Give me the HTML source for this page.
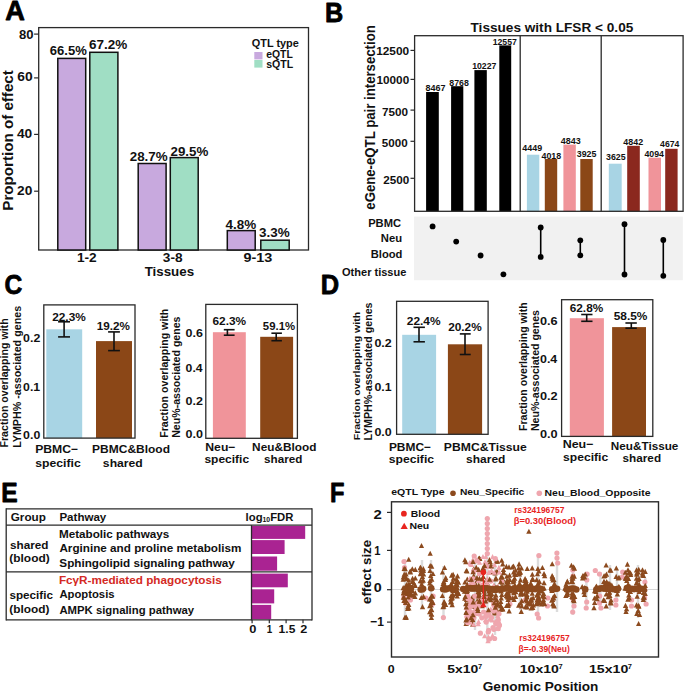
<!DOCTYPE html>
<html><head><meta charset="utf-8"><style>
html,body{margin:0;padding:0;background:#fff;}
svg{display:block;}
text{font-family:"Liberation Sans",sans-serif;}
</style></head><body>
<svg width="685" height="693" viewBox="0 0 685 693">
<rect x="0" y="0" width="685" height="693" fill="#fff"/>
<text x="5.22" y="19.50" font-size="26.80" font-weight="bold" fill="#000" textLength="19.59" lengthAdjust="spacingAndGlyphs" stroke="#000" stroke-width="0.8" stroke-linejoin="round">A</text>
<text x="325.01" y="21.50" font-size="26.80" font-weight="bold" fill="#000" textLength="18.23" lengthAdjust="spacingAndGlyphs" stroke="#000" stroke-width="0.8" stroke-linejoin="round">B</text>
<text x="4.39" y="294.20" font-size="26.80" font-weight="bold" fill="#000" textLength="17.78" lengthAdjust="spacingAndGlyphs" stroke="#000" stroke-width="0.8" stroke-linejoin="round">C</text>
<text x="320.69" y="294.40" font-size="26.80" font-weight="bold" fill="#000" textLength="18.38" lengthAdjust="spacingAndGlyphs" stroke="#000" stroke-width="0.8" stroke-linejoin="round">D</text>
<text x="1.35" y="501.80" font-size="26.80" font-weight="bold" fill="#000" textLength="16.41" lengthAdjust="spacingAndGlyphs" stroke="#000" stroke-width="0.8" stroke-linejoin="round">E</text>
<text x="329.91" y="501.80" font-size="26.80" font-weight="bold" fill="#000" textLength="14.46" lengthAdjust="spacingAndGlyphs" stroke="#000" stroke-width="0.8" stroke-linejoin="round">F</text>
<rect x="38.70" y="27.60" width="269.80" height="222.40" fill="none" stroke="#2a2a2a" stroke-width="1.3"/>
<line x1="34.10" y1="34.10" x2="38.70" y2="34.10" stroke="#2a2a2a" stroke-width="1.2"/>
<text x="18.98" y="39.00" font-size="12.10" font-weight="bold" fill="#111" textLength="14.56" lengthAdjust="spacingAndGlyphs">80</text>
<line x1="34.10" y1="77.90" x2="38.70" y2="77.90" stroke="#2a2a2a" stroke-width="1.2"/>
<text x="17.39" y="81.40" font-size="12.10" font-weight="bold" fill="#111" textLength="15.38" lengthAdjust="spacingAndGlyphs">60</text>
<line x1="34.10" y1="134.40" x2="38.70" y2="134.40" stroke="#2a2a2a" stroke-width="1.2"/>
<text x="16.99" y="138.40" font-size="12.10" font-weight="bold" fill="#111" textLength="15.27" lengthAdjust="spacingAndGlyphs">40</text>
<line x1="34.10" y1="191.20" x2="38.70" y2="191.20" stroke="#2a2a2a" stroke-width="1.2"/>
<text x="17.02" y="195.30" font-size="12.10" font-weight="bold" fill="#111" textLength="15.25" lengthAdjust="spacingAndGlyphs">20</text>
<rect x="57.80" y="58.40" width="27.90" height="191.60" fill="#C8A9DE" stroke="#111" stroke-width="1.5"/>
<rect x="89.80" y="52.30" width="28.10" height="197.70" fill="#A0DEC4" stroke="#111" stroke-width="1.5"/>
<rect x="138.20" y="163.50" width="27.90" height="86.50" fill="#C8A9DE" stroke="#111" stroke-width="1.5"/>
<rect x="170.30" y="157.60" width="27.90" height="92.40" fill="#A0DEC4" stroke="#111" stroke-width="1.5"/>
<rect x="227.30" y="230.60" width="27.90" height="19.40" fill="#C8A9DE" stroke="#111" stroke-width="1.5"/>
<rect x="260.80" y="240.20" width="28.40" height="9.80" fill="#A0DEC4" stroke="#111" stroke-width="1.5"/>
<text x="49.82" y="55.40" font-size="12.70" font-weight="bold" fill="#111" textLength="37.03" lengthAdjust="spacingAndGlyphs">66.5%</text>
<text x="89.00" y="48.60" font-size="12.70" font-weight="bold" fill="#111" textLength="38.26" lengthAdjust="spacingAndGlyphs">67.2%</text>
<text x="129.73" y="161.00" font-size="12.70" font-weight="bold" fill="#111" textLength="37.92" lengthAdjust="spacingAndGlyphs">28.7%</text>
<text x="170.53" y="156.00" font-size="12.70" font-weight="bold" fill="#111" textLength="37.82" lengthAdjust="spacingAndGlyphs">29.5%</text>
<text x="225.50" y="229.00" font-size="12.70" font-weight="bold" fill="#111" textLength="30.66" lengthAdjust="spacingAndGlyphs">4.8%</text>
<text x="258.99" y="237.20" font-size="12.70" font-weight="bold" fill="#111" textLength="30.66" lengthAdjust="spacingAndGlyphs">3.3%</text>
<text x="251.75" y="47.30" font-size="10.40" font-weight="bold" fill="#111" textLength="47.12" lengthAdjust="spacingAndGlyphs">QTL type</text>
<rect x="254.30" y="52.00" width="8.20" height="7.40" fill="#C8A9DE" stroke="none" stroke-width="1"/>
<rect x="254.30" y="60.00" width="8.20" height="7.60" fill="#A0DEC4" stroke="none" stroke-width="1"/>
<text x="266.19" y="58.30" font-size="10.60" font-weight="bold" fill="#111" textLength="26.63" lengthAdjust="spacingAndGlyphs">eQTL</text>
<text x="266.23" y="68.30" font-size="10.60" font-weight="bold" fill="#111" textLength="27.10" lengthAdjust="spacingAndGlyphs">sQTL</text>
<text x="76.94" y="262.20" font-size="12.20" font-weight="bold" fill="#111" textLength="19.82" lengthAdjust="spacingAndGlyphs">1-2</text>
<text x="162.89" y="262.20" font-size="12.20" font-weight="bold" fill="#111" textLength="19.74" lengthAdjust="spacingAndGlyphs">3-8</text>
<text x="243.50" y="262.20" font-size="12.20" font-weight="bold" fill="#111" textLength="28.83" lengthAdjust="spacingAndGlyphs">9-13</text>
<text x="144.65" y="275.80" font-size="13.70" font-weight="bold" fill="#111" textLength="49.50" lengthAdjust="spacingAndGlyphs">Tissues</text>
<text transform="translate(13.00,210.71) scale(1.069,1) rotate(-90)" x="0" y="0" font-size="14.00" font-weight="bold" fill="#111" textLength="140.50" lengthAdjust="spacingAndGlyphs">Proportion of effect</text>
<text x="470.55" y="31.70" font-size="13.20" font-weight="bold" fill="#111" textLength="162.73" lengthAdjust="spacingAndGlyphs">Tissues with LFSR &lt; 0.05</text>
<line x1="410.50" y1="50.40" x2="414.50" y2="50.40" stroke="#2a2a2a" stroke-width="1.2"/>
<text x="376.15" y="54.70" font-size="11.40" font-weight="bold" fill="#111" textLength="33.03" lengthAdjust="spacingAndGlyphs">12500</text>
<line x1="410.50" y1="79.40" x2="414.50" y2="79.40" stroke="#2a2a2a" stroke-width="1.2"/>
<text x="376.56" y="84.20" font-size="11.40" font-weight="bold" fill="#111" textLength="32.62" lengthAdjust="spacingAndGlyphs">10000</text>
<line x1="410.50" y1="110.10" x2="414.50" y2="110.10" stroke="#2a2a2a" stroke-width="1.2"/>
<text x="382.00" y="115.50" font-size="11.40" font-weight="bold" fill="#111" textLength="26.09" lengthAdjust="spacingAndGlyphs">7500</text>
<line x1="410.50" y1="141.30" x2="414.50" y2="141.30" stroke="#2a2a2a" stroke-width="1.2"/>
<text x="381.84" y="146.70" font-size="11.40" font-weight="bold" fill="#111" textLength="25.84" lengthAdjust="spacingAndGlyphs">5000</text>
<line x1="410.50" y1="178.30" x2="414.50" y2="178.30" stroke="#2a2a2a" stroke-width="1.2"/>
<text x="383.39" y="183.50" font-size="11.40" font-weight="bold" fill="#111" textLength="26.00" lengthAdjust="spacingAndGlyphs">2500</text>
<rect x="426.10" y="92.00" width="12.70" height="119.30" fill="#000" stroke="none" stroke-width="1"/>
<rect x="451.10" y="86.20" width="12.20" height="125.10" fill="#000" stroke="none" stroke-width="1"/>
<rect x="474.40" y="70.10" width="12.40" height="141.20" fill="#000" stroke="none" stroke-width="1"/>
<rect x="499.30" y="45.40" width="11.90" height="165.90" fill="#000" stroke="none" stroke-width="1"/>
<rect x="526.90" y="154.70" width="12.40" height="56.60" fill="#A8D4E4" stroke="none" stroke-width="1"/>
<rect x="544.80" y="159.00" width="12.40" height="52.30" fill="#8B4717" stroke="none" stroke-width="1"/>
<rect x="563.40" y="144.60" width="12.40" height="66.70" fill="#F0949A" stroke="none" stroke-width="1"/>
<rect x="580.30" y="159.00" width="12.40" height="52.30" fill="#8B4717" stroke="none" stroke-width="1"/>
<rect x="608.80" y="163.70" width="12.90" height="47.60" fill="#A8D4E4" stroke="none" stroke-width="1"/>
<rect x="627.20" y="145.80" width="12.60" height="65.50" fill="#8B281E" stroke="none" stroke-width="1"/>
<rect x="648.50" y="157.70" width="12.50" height="53.60" fill="#F0949A" stroke="none" stroke-width="1"/>
<rect x="665.20" y="148.80" width="12.40" height="62.50" fill="#8B281E" stroke="none" stroke-width="1"/>
<text x="425.41" y="90.50" font-size="8.80" font-weight="bold" fill="#111" textLength="19.99" lengthAdjust="spacingAndGlyphs">8467</text>
<text x="449.32" y="86.20" font-size="8.80" font-weight="bold" fill="#111" textLength="19.56" lengthAdjust="spacingAndGlyphs">8768</text>
<text x="472.15" y="68.50" font-size="8.80" font-weight="bold" fill="#111" textLength="24.23" lengthAdjust="spacingAndGlyphs">10227</text>
<text x="492.65" y="44.60" font-size="8.80" font-weight="bold" fill="#111" textLength="24.23" lengthAdjust="spacingAndGlyphs">12557</text>
<text x="522.27" y="151.00" font-size="8.80" font-weight="bold" fill="#111" textLength="19.87" lengthAdjust="spacingAndGlyphs">4449</text>
<text x="541.47" y="158.50" font-size="8.80" font-weight="bold" fill="#111" textLength="19.71" lengthAdjust="spacingAndGlyphs">4018</text>
<text x="560.77" y="143.60" font-size="8.80" font-weight="bold" fill="#111" textLength="19.86" lengthAdjust="spacingAndGlyphs">4843</text>
<text x="576.80" y="157.20" font-size="8.80" font-weight="bold" fill="#111" textLength="19.66" lengthAdjust="spacingAndGlyphs">3925</text>
<text x="606.10" y="160.20" font-size="8.80" font-weight="bold" fill="#111" textLength="19.55" lengthAdjust="spacingAndGlyphs">3625</text>
<text x="623.37" y="144.80" font-size="8.80" font-weight="bold" fill="#111" textLength="19.79" lengthAdjust="spacingAndGlyphs">4842</text>
<text x="644.47" y="156.70" font-size="8.80" font-weight="bold" fill="#111" textLength="19.48" lengthAdjust="spacingAndGlyphs">4094</text>
<text x="660.07" y="146.80" font-size="8.80" font-weight="bold" fill="#111" textLength="19.28" lengthAdjust="spacingAndGlyphs">4674</text>
<rect x="414.60" y="35.70" width="268.50" height="175.60" fill="none" stroke="#2a2a2a" stroke-width="1.3"/>
<line x1="520.20" y1="35.70" x2="520.20" y2="211.30" stroke="#2a2a2a" stroke-width="1.3"/>
<line x1="601.20" y1="35.70" x2="601.20" y2="211.30" stroke="#2a2a2a" stroke-width="1.3"/>
<text transform="translate(375.00,209.71) scale(1.107,1) rotate(-90)" x="0" y="0" font-size="13.00" font-weight="bold" fill="#111" textLength="184.52" lengthAdjust="spacingAndGlyphs">eGene-eQTL pair intersection</text>
<rect x="414.00" y="216.60" width="268.80" height="63.60" fill="#F1F1F1" stroke="none" stroke-width="1"/>
<text x="368.15" y="227.40" font-size="11.60" font-weight="bold" fill="#111" textLength="32.85" lengthAdjust="spacingAndGlyphs">PBMC</text>
<text x="380.84" y="241.60" font-size="11.60" font-weight="bold" fill="#111" textLength="21.30" lengthAdjust="spacingAndGlyphs">Neu</text>
<text x="370.75" y="258.00" font-size="11.60" font-weight="bold" fill="#111" textLength="31.68" lengthAdjust="spacingAndGlyphs">Blood</text>
<text x="342.05" y="276.00" font-size="11.60" font-weight="bold" fill="#111" textLength="64.33" lengthAdjust="spacingAndGlyphs">Other tissue</text>
<circle cx="432.60" cy="226.40" r="2.9" fill="#000"/>
<circle cx="456.20" cy="241.60" r="2.9" fill="#000"/>
<circle cx="480.60" cy="255.50" r="2.9" fill="#000"/>
<circle cx="503.40" cy="274.30" r="2.9" fill="#000"/>
<line x1="540.70" y1="227.50" x2="540.70" y2="256.90" stroke="#000" stroke-width="1.6"/>
<circle cx="540.70" cy="227.50" r="2.9" fill="#000"/>
<circle cx="540.70" cy="256.90" r="2.9" fill="#000"/>
<line x1="580.30" y1="240.30" x2="580.30" y2="255.30" stroke="#000" stroke-width="1.6"/>
<circle cx="580.30" cy="240.30" r="2.9" fill="#000"/>
<circle cx="580.30" cy="255.30" r="2.9" fill="#000"/>
<line x1="624.50" y1="224.20" x2="624.50" y2="274.50" stroke="#000" stroke-width="1.6"/>
<circle cx="624.50" cy="224.20" r="2.9" fill="#000"/>
<circle cx="624.50" cy="274.50" r="2.9" fill="#000"/>
<line x1="663.30" y1="240.00" x2="663.30" y2="275.80" stroke="#000" stroke-width="1.6"/>
<circle cx="663.30" cy="240.00" r="2.9" fill="#000"/>
<circle cx="663.30" cy="275.80" r="2.9" fill="#000"/>
<rect x="46.30" y="329.30" width="35.90" height="108.80" fill="#A8D4E4" stroke="none" stroke-width="1"/>
<rect x="96.00" y="341.10" width="36.00" height="97.00" fill="#8B4717" stroke="none" stroke-width="1"/>
<line x1="64.10" y1="321.80" x2="64.10" y2="336.90" stroke="#111" stroke-width="1.6"/>
<line x1="58.10" y1="321.80" x2="70.00" y2="321.80" stroke="#111" stroke-width="1.6"/>
<line x1="58.10" y1="336.90" x2="70.00" y2="336.90" stroke="#111" stroke-width="1.6"/>
<line x1="114.00" y1="331.90" x2="114.00" y2="350.60" stroke="#111" stroke-width="1.6"/>
<line x1="108.10" y1="331.90" x2="119.90" y2="331.90" stroke="#111" stroke-width="1.6"/>
<line x1="108.10" y1="350.60" x2="119.90" y2="350.60" stroke="#111" stroke-width="1.6"/>
<text x="52.18" y="320.50" font-size="11.80" font-weight="bold" fill="#111" textLength="33.63" lengthAdjust="spacingAndGlyphs">22.3%</text>
<text x="96.86" y="330.00" font-size="11.80" font-weight="bold" fill="#111" textLength="33.15" lengthAdjust="spacingAndGlyphs">19.2%</text>
<text x="23.11" y="342.00" font-size="11.30" font-weight="bold" fill="#111" textLength="17.19" lengthAdjust="spacingAndGlyphs">0.2</text>
<text x="23.11" y="391.00" font-size="11.30" font-weight="bold" fill="#111" textLength="17.04" lengthAdjust="spacingAndGlyphs">0.1</text>
<text x="23.10" y="439.10" font-size="11.30" font-weight="bold" fill="#111" textLength="17.20" lengthAdjust="spacingAndGlyphs">0.0</text>
<text x="35.18" y="453.00" font-size="11.40" font-weight="bold" fill="#111" textLength="43.02" lengthAdjust="spacingAndGlyphs">PBMC−</text>
<text x="35.27" y="466.50" font-size="11.40" font-weight="bold" fill="#111" textLength="45.48" lengthAdjust="spacingAndGlyphs">specific</text>
<text x="92.10" y="453.20" font-size="11.40" font-weight="bold" fill="#111" textLength="77.89" lengthAdjust="spacingAndGlyphs">PBMC&amp;Blood</text>
<text x="102.87" y="466.70" font-size="11.40" font-weight="bold" fill="#111" textLength="39.93" lengthAdjust="spacingAndGlyphs">shared</text>
<text transform="translate(8.10,447.51) scale(0.983,1) rotate(-90)" x="0" y="0" font-size="10.50" font-weight="bold" fill="#111" textLength="129.16" lengthAdjust="spacingAndGlyphs">Fraction overlapping with</text>
<text transform="translate(20.70,447.82) scale(1.052,1) rotate(-90)" x="0" y="0" font-size="10.50" font-weight="bold" fill="#111" textLength="141.95" lengthAdjust="spacingAndGlyphs">LYMPH% -associated genes</text>
<rect x="43.80" y="304.90" width="91.20" height="133.20" fill="none" stroke="#2a2a2a" stroke-width="1.3"/>
<rect x="212.90" y="332.20" width="32.90" height="106.10" fill="#F0949A" stroke="none" stroke-width="1"/>
<rect x="260.20" y="336.80" width="32.90" height="101.50" fill="#8B4717" stroke="none" stroke-width="1"/>
<line x1="227.40" y1="329.70" x2="227.40" y2="335.20" stroke="#111" stroke-width="1.6"/>
<line x1="223.80" y1="329.70" x2="234.60" y2="329.70" stroke="#111" stroke-width="1.6"/>
<line x1="223.80" y1="335.20" x2="234.60" y2="335.20" stroke="#111" stroke-width="1.6"/>
<line x1="276.20" y1="333.20" x2="276.20" y2="340.70" stroke="#111" stroke-width="1.6"/>
<line x1="271.40" y1="333.20" x2="281.90" y2="333.20" stroke="#111" stroke-width="1.6"/>
<line x1="271.40" y1="340.70" x2="281.90" y2="340.70" stroke="#111" stroke-width="1.6"/>
<text x="212.46" y="325.40" font-size="11.80" font-weight="bold" fill="#111" textLength="33.65" lengthAdjust="spacingAndGlyphs">62.3%</text>
<text x="262.85" y="330.20" font-size="11.80" font-weight="bold" fill="#111" textLength="32.25" lengthAdjust="spacingAndGlyphs">59.1%</text>
<text x="185.60" y="337.30" font-size="11.30" font-weight="bold" fill="#111" textLength="17.35" lengthAdjust="spacingAndGlyphs">0.6</text>
<text x="185.61" y="372.00" font-size="11.30" font-weight="bold" fill="#111" textLength="16.95" lengthAdjust="spacingAndGlyphs">0.4</text>
<text x="185.60" y="404.80" font-size="11.30" font-weight="bold" fill="#111" textLength="17.40" lengthAdjust="spacingAndGlyphs">0.2</text>
<text x="185.60" y="437.70" font-size="11.30" font-weight="bold" fill="#111" textLength="17.42" lengthAdjust="spacingAndGlyphs">0.0</text>
<text x="205.28" y="450.60" font-size="11.40" font-weight="bold" fill="#111" textLength="30.22" lengthAdjust="spacingAndGlyphs">Neu−</text>
<text x="204.48" y="462.50" font-size="11.40" font-weight="bold" fill="#111" textLength="44.57" lengthAdjust="spacingAndGlyphs">specific</text>
<text x="252.11" y="450.60" font-size="11.40" font-weight="bold" fill="#111" textLength="64.27" lengthAdjust="spacingAndGlyphs">Neu&amp;Blood</text>
<text x="264.09" y="462.50" font-size="11.40" font-weight="bold" fill="#111" textLength="38.28" lengthAdjust="spacingAndGlyphs">shared</text>
<text transform="translate(167.60,437.81) scale(1.038,1) rotate(-90)" x="0" y="0" font-size="10.50" font-weight="bold" fill="#111" textLength="129.16" lengthAdjust="spacingAndGlyphs">Fraction overlapping with</text>
<text transform="translate(180.00,437.81) scale(1.052,1) rotate(-90)" x="0" y="0" font-size="10.50" font-weight="bold" fill="#111" textLength="121.34" lengthAdjust="spacingAndGlyphs">Neu%-associated genes</text>
<rect x="205.80" y="304.40" width="91.60" height="133.90" fill="none" stroke="#2a2a2a" stroke-width="1.3"/>
<rect x="402.20" y="334.80" width="33.90" height="99.50" fill="#A8D4E4" stroke="none" stroke-width="1"/>
<rect x="447.90" y="344.30" width="34.20" height="90.00" fill="#8B4717" stroke="none" stroke-width="1"/>
<line x1="419.00" y1="327.30" x2="419.00" y2="341.80" stroke="#111" stroke-width="1.6"/>
<line x1="413.50" y1="327.30" x2="424.90" y2="327.30" stroke="#111" stroke-width="1.6"/>
<line x1="413.50" y1="341.80" x2="424.90" y2="341.80" stroke="#111" stroke-width="1.6"/>
<line x1="465.00" y1="333.90" x2="465.00" y2="354.50" stroke="#111" stroke-width="1.6"/>
<line x1="459.80" y1="333.90" x2="470.70" y2="333.90" stroke="#111" stroke-width="1.6"/>
<line x1="459.80" y1="354.50" x2="470.70" y2="354.50" stroke="#111" stroke-width="1.6"/>
<text x="406.78" y="325.00" font-size="11.80" font-weight="bold" fill="#111" textLength="33.83" lengthAdjust="spacingAndGlyphs">22.4%</text>
<text x="448.19" y="331.30" font-size="11.80" font-weight="bold" fill="#111" textLength="33.53" lengthAdjust="spacingAndGlyphs">20.2%</text>
<text x="374.40" y="346.70" font-size="11.30" font-weight="bold" fill="#111" textLength="17.30" lengthAdjust="spacingAndGlyphs">0.2</text>
<text x="374.41" y="391.20" font-size="11.30" font-weight="bold" fill="#111" textLength="17.14" lengthAdjust="spacingAndGlyphs">0.1</text>
<text x="374.40" y="435.80" font-size="11.30" font-weight="bold" fill="#111" textLength="17.31" lengthAdjust="spacingAndGlyphs">0.0</text>
<text x="388.90" y="450.70" font-size="11.40" font-weight="bold" fill="#111" textLength="42.09" lengthAdjust="spacingAndGlyphs">PBMC−</text>
<text x="388.77" y="463.40" font-size="11.40" font-weight="bold" fill="#111" textLength="45.28" lengthAdjust="spacingAndGlyphs">specific</text>
<text x="443.88" y="450.70" font-size="11.40" font-weight="bold" fill="#111" textLength="82.93" lengthAdjust="spacingAndGlyphs">PBMC&amp;Tissue</text>
<text x="466.08" y="463.40" font-size="11.40" font-weight="bold" fill="#111" textLength="39.31" lengthAdjust="spacingAndGlyphs">shared</text>
<text transform="translate(359.80,440.31) scale(0.914,1) rotate(-90)" x="0" y="0" font-size="10.50" font-weight="bold" fill="#111" textLength="128.46" lengthAdjust="spacingAndGlyphs">Fraction overlapping with</text>
<text transform="translate(372.20,440.61) scale(0.983,1) rotate(-90)" x="0" y="0" font-size="10.50" font-weight="bold" fill="#111" textLength="138.15" lengthAdjust="spacingAndGlyphs">LYMPH%-associated genes</text>
<rect x="396.60" y="301.30" width="91.50" height="133.00" fill="none" stroke="#2a2a2a" stroke-width="1.3"/>
<rect x="569.80" y="318.20" width="34.10" height="118.20" fill="#F0949A" stroke="none" stroke-width="1"/>
<rect x="612.10" y="327.10" width="33.90" height="109.30" fill="#8B4717" stroke="none" stroke-width="1"/>
<line x1="586.70" y1="314.50" x2="586.70" y2="321.30" stroke="#111" stroke-width="1.6"/>
<line x1="581.20" y1="314.50" x2="592.50" y2="314.50" stroke="#111" stroke-width="1.6"/>
<line x1="581.20" y1="321.30" x2="592.50" y2="321.30" stroke="#111" stroke-width="1.6"/>
<line x1="631.30" y1="323.00" x2="631.30" y2="328.20" stroke="#111" stroke-width="1.6"/>
<line x1="625.40" y1="323.00" x2="636.80" y2="323.00" stroke="#111" stroke-width="1.6"/>
<line x1="625.40" y1="328.20" x2="636.80" y2="328.20" stroke="#111" stroke-width="1.6"/>
<text x="569.76" y="311.70" font-size="11.80" font-weight="bold" fill="#111" textLength="33.45" lengthAdjust="spacingAndGlyphs">62.8%</text>
<text x="613.73" y="320.40" font-size="11.80" font-weight="bold" fill="#111" textLength="33.68" lengthAdjust="spacingAndGlyphs">58.5%</text>
<text x="539.99" y="324.70" font-size="11.30" font-weight="bold" fill="#111" textLength="17.67" lengthAdjust="spacingAndGlyphs">0.6</text>
<text x="540.00" y="362.80" font-size="11.30" font-weight="bold" fill="#111" textLength="17.26" lengthAdjust="spacingAndGlyphs">0.4</text>
<text x="539.99" y="400.00" font-size="11.30" font-weight="bold" fill="#111" textLength="17.72" lengthAdjust="spacingAndGlyphs">0.2</text>
<text x="539.99" y="437.70" font-size="11.30" font-weight="bold" fill="#111" textLength="17.74" lengthAdjust="spacingAndGlyphs">0.0</text>
<text x="562.66" y="447.80" font-size="11.40" font-weight="bold" fill="#111" textLength="30.85" lengthAdjust="spacingAndGlyphs">Neu−</text>
<text x="563.08" y="461.10" font-size="11.40" font-weight="bold" fill="#111" textLength="45.08" lengthAdjust="spacingAndGlyphs">specific</text>
<text x="610.81" y="450.20" font-size="11.40" font-weight="bold" fill="#111" textLength="67.59" lengthAdjust="spacingAndGlyphs">Neu&amp;Tissue</text>
<text x="622.59" y="462.20" font-size="11.40" font-weight="bold" fill="#111" textLength="38.49" lengthAdjust="spacingAndGlyphs">shared</text>
<text transform="translate(526.80,431.01) scale(0.955,1) rotate(-90)" x="0" y="0" font-size="10.50" font-weight="bold" fill="#111" textLength="128.76" lengthAdjust="spacingAndGlyphs">Fraction overlapping with</text>
<text transform="translate(539.00,431.01) scale(0.969,1) rotate(-90)" x="0" y="0" font-size="10.50" font-weight="bold" fill="#111" textLength="120.94" lengthAdjust="spacingAndGlyphs">Neu%-associated genes</text>
<rect x="561.60" y="299.70" width="91.20" height="136.70" fill="none" stroke="#2a2a2a" stroke-width="1.3"/>
<rect x="251.80" y="526.00" width="53.40" height="12.90" fill="#AA2392" stroke="none" stroke-width="1"/>
<rect x="251.80" y="540.10" width="32.80" height="13.90" fill="#AA2392" stroke="none" stroke-width="1"/>
<rect x="251.80" y="556.50" width="25.30" height="14.20" fill="#AA2392" stroke="none" stroke-width="1"/>
<rect x="251.80" y="573.60" width="36.00" height="13.70" fill="#AA2392" stroke="none" stroke-width="1"/>
<rect x="251.80" y="589.30" width="22.40" height="14.10" fill="#AA2392" stroke="none" stroke-width="1"/>
<rect x="251.80" y="604.90" width="19.40" height="14.20" fill="#AA2392" stroke="none" stroke-width="1"/>
<line x1="6.20" y1="508.90" x2="312.00" y2="508.90" stroke="#2a2a2a" stroke-width="1.3"/>
<line x1="6.20" y1="525.10" x2="312.00" y2="525.10" stroke="#2a2a2a" stroke-width="1.3"/>
<line x1="6.20" y1="571.80" x2="312.00" y2="571.80" stroke="#2a2a2a" stroke-width="1.3"/>
<line x1="6.20" y1="619.80" x2="312.00" y2="619.80" stroke="#2a2a2a" stroke-width="1.3"/>
<line x1="6.20" y1="508.30" x2="6.20" y2="620.40" stroke="#2a2a2a" stroke-width="1.3"/>
<line x1="312.00" y1="508.30" x2="312.00" y2="620.40" stroke="#2a2a2a" stroke-width="1.3"/>
<line x1="251.50" y1="525.10" x2="251.50" y2="620.40" stroke="#2a2a2a" stroke-width="1.3"/>
<line x1="252.10" y1="619.80" x2="252.10" y2="623.20" stroke="#2a2a2a" stroke-width="1.2"/>
<line x1="269.30" y1="619.80" x2="269.30" y2="623.20" stroke="#2a2a2a" stroke-width="1.2"/>
<line x1="286.10" y1="619.80" x2="286.10" y2="623.20" stroke="#2a2a2a" stroke-width="1.2"/>
<line x1="303.00" y1="619.80" x2="303.00" y2="623.20" stroke="#2a2a2a" stroke-width="1.2"/>
<text x="249.19" y="633.30" font-size="11.40" font-weight="bold" fill="#111" textLength="7.14" lengthAdjust="spacingAndGlyphs">0</text>
<text x="266.68" y="633.30" font-size="11.40" font-weight="bold" fill="#111" textLength="5.50" lengthAdjust="spacingAndGlyphs">1</text>
<text x="278.64" y="633.30" font-size="11.40" font-weight="bold" fill="#111" textLength="16.69" lengthAdjust="spacingAndGlyphs">1.5</text>
<text x="300.16" y="633.30" font-size="11.40" font-weight="bold" fill="#111" textLength="7.05" lengthAdjust="spacingAndGlyphs">2</text>
<text x="10.72" y="520.50" font-size="11.80" font-weight="bold" fill="#111" textLength="35.16" lengthAdjust="spacingAndGlyphs">Group</text>
<text x="59.43" y="520.50" font-size="11.80" font-weight="bold" fill="#111" textLength="46.83" lengthAdjust="spacingAndGlyphs">Pathway</text>
<text x="245.6" y="521.3" font-size="11.5" font-weight="bold" fill="#111" textLength="47.8" lengthAdjust="spacingAndGlyphs">log<tspan font-size="7" dy="1">10</tspan><tspan dy="-1">FDR</tspan></text>
<text x="58.92" y="537.70" font-size="11.50" font-weight="bold" fill="#111" textLength="110.36" lengthAdjust="spacingAndGlyphs">Metabolic pathways</text>
<text x="59.41" y="552.30" font-size="11.50" font-weight="bold" fill="#111" textLength="182.03" lengthAdjust="spacingAndGlyphs">Arginine and proline metabolism</text>
<text x="59.36" y="567.20" font-size="11.50" font-weight="bold" fill="#111" textLength="175.50" lengthAdjust="spacingAndGlyphs">Sphingolipid signaling pathway</text>
<text x="58.91" y="584.30" font-size="11.50" font-weight="bold" fill="#D42A24" textLength="162.87" lengthAdjust="spacingAndGlyphs">FcγR-mediated phagocytosis</text>
<text x="59.42" y="598.40" font-size="11.50" font-weight="bold" fill="#111" textLength="55.14" lengthAdjust="spacingAndGlyphs">Apoptosis</text>
<text x="59.42" y="614.00" font-size="11.50" font-weight="bold" fill="#111" textLength="134.64" lengthAdjust="spacingAndGlyphs">AMPK signaling pathway</text>
<text x="9.99" y="548.90" font-size="11.50" font-weight="bold" fill="#111" textLength="38.49" lengthAdjust="spacingAndGlyphs">shared</text>
<text x="9.30" y="562.30" font-size="11.50" font-weight="bold" fill="#111" textLength="40.40" lengthAdjust="spacingAndGlyphs">(blood)</text>
<text x="9.49" y="599.20" font-size="11.50" font-weight="bold" fill="#111" textLength="43.45" lengthAdjust="spacingAndGlyphs">specific</text>
<text x="9.31" y="612.90" font-size="11.50" font-weight="bold" fill="#111" textLength="40.19" lengthAdjust="spacingAndGlyphs">(blood)</text>
<line x1="391.50" y1="589.50" x2="658.50" y2="589.50" stroke="#D6D6D6" stroke-width="1"/>
<line x1="405.0" y1="559.0" x2="405.0" y2="618.0" stroke="#DCDCDC" stroke-width="2.4"/>
<line x1="422.0" y1="560.0" x2="422.0" y2="608.0" stroke="#DCDCDC" stroke-width="2.4"/>
<line x1="431.0" y1="560.0" x2="431.0" y2="618.0" stroke="#DCDCDC" stroke-width="2.4"/>
<line x1="443.5" y1="566.0" x2="443.5" y2="618.0" stroke="#DCDCDC" stroke-width="2.4"/>
<line x1="487.3" y1="518.0" x2="487.3" y2="641.0" stroke="#DCDCDC" stroke-width="2.4"/>
<line x1="538.0" y1="555.0" x2="538.0" y2="618.0" stroke="#DCDCDC" stroke-width="2.4"/>
<line x1="557.0" y1="553.0" x2="557.0" y2="612.0" stroke="#DCDCDC" stroke-width="2.4"/>
<line x1="573.0" y1="565.0" x2="573.0" y2="615.0" stroke="#DCDCDC" stroke-width="2.4"/>
<line x1="586.4" y1="572.0" x2="586.4" y2="610.0" stroke="#DCDCDC" stroke-width="2.4"/>
<line x1="600.4" y1="572.0" x2="600.4" y2="608.0" stroke="#DCDCDC" stroke-width="2.4"/>
<line x1="617.0" y1="570.0" x2="617.0" y2="600.0" stroke="#DCDCDC" stroke-width="2.4"/>
<line x1="638.0" y1="565.0" x2="638.0" y2="618.0" stroke="#DCDCDC" stroke-width="2.4"/>
<line x1="645.4" y1="578.0" x2="645.4" y2="605.0" stroke="#DCDCDC" stroke-width="2.4"/>
<line x1="475.0" y1="560.0" x2="475.0" y2="630.0" stroke="#DCDCDC" stroke-width="2.4"/>
<line x1="495.0" y1="560.0" x2="495.0" y2="635.0" stroke="#DCDCDC" stroke-width="2.4"/>
<line x1="520.0" y1="565.0" x2="520.0" y2="610.0" stroke="#DCDCDC" stroke-width="2.4"/>
<line x1="610.0" y1="565.0" x2="610.0" y2="610.0" stroke="#DCDCDC" stroke-width="2.4"/>
<circle cx="404.0" cy="561.5" r="2.6" fill="#EFA6AE"/>
<circle cx="404.5" cy="567.6" r="2.6" fill="#EFA6AE"/>
<circle cx="404.0" cy="597.0" r="2.6" fill="#EFA6AE"/>
<circle cx="405.5" cy="603.0" r="2.6" fill="#EFA6AE"/>
<circle cx="411.1" cy="596.0" r="2.6" fill="#EFA6AE"/>
<circle cx="410.4" cy="600.0" r="2.6" fill="#EFA6AE"/>
<circle cx="443.4" cy="617.6" r="2.6" fill="#EFA6AE"/>
<circle cx="538.9" cy="555.6" r="2.6" fill="#EFA6AE"/>
<circle cx="537.2" cy="614.0" r="2.6" fill="#EFA6AE"/>
<circle cx="538.6" cy="618.0" r="2.6" fill="#EFA6AE"/>
<circle cx="556.9" cy="553.0" r="2.6" fill="#EFA6AE"/>
<circle cx="557.0" cy="558.0" r="2.6" fill="#EFA6AE"/>
<circle cx="557.7" cy="563.0" r="2.6" fill="#EFA6AE"/>
<circle cx="572.8" cy="570.0" r="2.6" fill="#EFA6AE"/>
<circle cx="573.0" cy="576.0" r="2.6" fill="#EFA6AE"/>
<circle cx="573.4" cy="600.0" r="2.6" fill="#EFA6AE"/>
<circle cx="574.0" cy="606.0" r="2.6" fill="#EFA6AE"/>
<circle cx="572.7" cy="612.0" r="2.6" fill="#EFA6AE"/>
<circle cx="587.1" cy="574.0" r="2.6" fill="#EFA6AE"/>
<circle cx="586.8" cy="580.0" r="2.6" fill="#EFA6AE"/>
<circle cx="586.7" cy="602.0" r="2.6" fill="#EFA6AE"/>
<circle cx="586.2" cy="608.0" r="2.6" fill="#EFA6AE"/>
<circle cx="595.3" cy="570.5" r="2.6" fill="#EFA6AE"/>
<circle cx="599.5" cy="574.0" r="2.6" fill="#EFA6AE"/>
<circle cx="599.7" cy="596.0" r="2.6" fill="#EFA6AE"/>
<circle cx="599.5" cy="603.0" r="2.6" fill="#EFA6AE"/>
<circle cx="600.9" cy="608.0" r="2.6" fill="#EFA6AE"/>
<circle cx="644.9" cy="582.0" r="2.6" fill="#EFA6AE"/>
<circle cx="644.7" cy="590.0" r="2.6" fill="#EFA6AE"/>
<circle cx="644.6" cy="598.0" r="2.6" fill="#EFA6AE"/>
<circle cx="646.1" cy="604.0" r="2.6" fill="#EFA6AE"/>
<circle cx="622.7" cy="572.0" r="2.6" fill="#EFA6AE"/>
<circle cx="622.3" cy="577.0" r="2.6" fill="#EFA6AE"/>
<circle cx="631.6" cy="600.0" r="2.6" fill="#EFA6AE"/>
<circle cx="631.5" cy="606.0" r="2.6" fill="#EFA6AE"/>
<circle cx="509.6" cy="598.0" r="2.6" fill="#EFA6AE"/>
<circle cx="509.9" cy="604.0" r="2.6" fill="#EFA6AE"/>
<circle cx="525.3" cy="600.0" r="2.6" fill="#EFA6AE"/>
<circle cx="547.9" cy="598.0" r="2.6" fill="#EFA6AE"/>
<circle cx="547.5" cy="606.0" r="2.6" fill="#EFA6AE"/>
<circle cx="615.9" cy="600.0" r="2.6" fill="#EFA6AE"/>
<circle cx="615.9" cy="605.0" r="2.6" fill="#EFA6AE"/>
<circle cx="433.1" cy="596.0" r="2.6" fill="#EFA6AE"/>
<circle cx="432.5" cy="604.0" r="2.6" fill="#EFA6AE"/>
<circle cx="425.9" cy="598.0" r="2.6" fill="#EFA6AE"/>
<path d="M402.3,619.8L404.9,614.7L407.6,619.8Z" fill="#8C4A1E"/>
<path d="M401.5,592.5L404.2,587.4L406.8,592.5Z" fill="#8C4A1E"/>
<path d="M402.7,579.0L405.3,573.9L408.0,579.0Z" fill="#8C4A1E"/>
<path d="M403.7,587.3L406.4,582.2L409.0,587.3Z" fill="#8C4A1E"/>
<path d="M400.7,579.6L403.4,574.5L406.0,579.6Z" fill="#8C4A1E"/>
<path d="M403.5,602.9L406.1,597.8L408.8,602.9Z" fill="#8C4A1E"/>
<path d="M403.4,576.5L406.1,571.4L408.7,576.5Z" fill="#8C4A1E"/>
<path d="M400.7,599.8L403.3,594.7L406.0,599.8Z" fill="#8C4A1E"/>
<path d="M402.6,595.2L405.2,590.1L407.9,595.2Z" fill="#8C4A1E"/>
<path d="M400.6,590.2L403.2,585.1L405.9,590.2Z" fill="#8C4A1E"/>
<path d="M402.9,605.1L405.6,600.0L408.2,605.1Z" fill="#8C4A1E"/>
<path d="M401.5,578.5L404.2,573.4L406.8,578.5Z" fill="#8C4A1E"/>
<path d="M402.3,602.7L404.9,597.6L407.6,602.7Z" fill="#8C4A1E"/>
<path d="M400.8,595.5L403.5,590.4L406.1,595.5Z" fill="#8C4A1E"/>
<path d="M402.6,571.3L405.2,566.2L407.9,571.3Z" fill="#8C4A1E"/>
<path d="M401.6,576.7L404.2,571.6L406.9,576.7Z" fill="#8C4A1E"/>
<path d="M403.8,594.5L406.4,589.4L409.1,594.5Z" fill="#8C4A1E"/>
<path d="M404.0,581.1L406.7,576.0L409.3,581.1Z" fill="#8C4A1E"/>
<path d="M401.3,603.1L404.0,598.0L406.6,603.1Z" fill="#8C4A1E"/>
<path d="M401.0,594.8L403.7,589.7L406.3,594.8Z" fill="#8C4A1E"/>
<path d="M400.6,581.8L403.2,576.7L405.9,581.8Z" fill="#8C4A1E"/>
<path d="M401.8,600.3L404.4,595.2L407.1,600.3Z" fill="#8C4A1E"/>
<path d="M403.6,619.5L406.2,614.4L408.9,619.5Z" fill="#8C4A1E"/>
<path d="M401.6,570.9L404.2,565.8L406.9,570.9Z" fill="#8C4A1E"/>
<path d="M401.5,593.0L404.2,587.9L406.8,593.0Z" fill="#8C4A1E"/>
<path d="M408.0,595.1L410.6,590.0L413.3,595.1Z" fill="#8C4A1E"/>
<path d="M407.3,587.8L409.9,582.7L412.6,587.8Z" fill="#8C4A1E"/>
<path d="M405.0,611.1L407.7,606.0L410.3,611.1Z" fill="#8C4A1E"/>
<path d="M408.1,597.5L410.7,592.4L413.4,597.5Z" fill="#8C4A1E"/>
<path d="M406.0,589.9L408.6,584.8L411.3,589.9Z" fill="#8C4A1E"/>
<path d="M406.3,589.4L409.0,584.3L411.6,589.4Z" fill="#8C4A1E"/>
<path d="M404.9,596.0L407.5,590.9L410.2,596.0Z" fill="#8C4A1E"/>
<path d="M406.6,595.6L409.3,590.5L411.9,595.6Z" fill="#8C4A1E"/>
<path d="M405.8,587.9L408.4,582.8L411.1,587.9Z" fill="#8C4A1E"/>
<path d="M407.7,574.4L410.3,569.3L413.0,574.4Z" fill="#8C4A1E"/>
<path d="M406.2,590.1L408.8,585.0L411.5,590.1Z" fill="#8C4A1E"/>
<path d="M407.5,573.6L410.2,568.5L412.8,573.6Z" fill="#8C4A1E"/>
<path d="M405.1,609.3L407.8,604.2L410.4,609.3Z" fill="#8C4A1E"/>
<path d="M406.2,587.4L408.8,582.3L411.5,587.4Z" fill="#8C4A1E"/>
<path d="M405.5,599.6L408.1,594.5L410.8,599.6Z" fill="#8C4A1E"/>
<path d="M405.9,595.3L408.6,590.2L411.2,595.3Z" fill="#8C4A1E"/>
<path d="M406.2,610.5L408.9,605.4L411.5,610.5Z" fill="#8C4A1E"/>
<path d="M406.1,582.5L408.7,577.4L411.4,582.5Z" fill="#8C4A1E"/>
<path d="M406.1,606.9L408.7,601.8L411.4,606.9Z" fill="#8C4A1E"/>
<path d="M406.4,586.7L409.0,581.6L411.7,586.7Z" fill="#8C4A1E"/>
<path d="M405.4,587.0L408.0,581.9L410.7,587.0Z" fill="#8C4A1E"/>
<path d="M406.3,588.4L409.0,583.3L411.6,588.4Z" fill="#8C4A1E"/>
<path d="M412.7,580.5L415.3,575.4L418.0,580.5Z" fill="#8C4A1E"/>
<path d="M409.8,584.0L412.4,578.9L415.1,584.0Z" fill="#8C4A1E"/>
<path d="M412.6,588.1L415.3,583.0L417.9,588.1Z" fill="#8C4A1E"/>
<path d="M409.9,593.0L412.5,587.9L415.2,593.0Z" fill="#8C4A1E"/>
<path d="M409.7,571.3L412.3,566.2L415.0,571.3Z" fill="#8C4A1E"/>
<path d="M410.6,597.5L413.2,592.4L415.9,597.5Z" fill="#8C4A1E"/>
<path d="M412.2,598.9L414.8,593.8L417.5,598.9Z" fill="#8C4A1E"/>
<path d="M412.7,595.4L415.3,590.3L418.0,595.4Z" fill="#8C4A1E"/>
<path d="M410.2,584.0L412.9,578.9L415.5,584.0Z" fill="#8C4A1E"/>
<path d="M412.7,571.9L415.3,566.8L418.0,571.9Z" fill="#8C4A1E"/>
<path d="M409.9,580.8L412.6,575.7L415.2,580.8Z" fill="#8C4A1E"/>
<path d="M411.4,585.8L414.1,580.7L416.7,585.8Z" fill="#8C4A1E"/>
<path d="M417.7,583.2L420.4,578.1L423.0,583.2Z" fill="#8C4A1E"/>
<path d="M418.6,600.1L421.3,595.0L423.9,600.1Z" fill="#8C4A1E"/>
<path d="M419.0,586.4L421.6,581.3L424.3,586.4Z" fill="#8C4A1E"/>
<path d="M419.8,579.1L422.5,574.0L425.1,579.1Z" fill="#8C4A1E"/>
<path d="M418.8,574.9L421.4,569.8L424.1,574.9Z" fill="#8C4A1E"/>
<path d="M419.5,590.0L422.2,584.9L424.8,590.0Z" fill="#8C4A1E"/>
<path d="M419.8,588.9L422.5,583.8L425.1,588.9Z" fill="#8C4A1E"/>
<path d="M417.6,570.2L420.2,565.1L422.9,570.2Z" fill="#8C4A1E"/>
<path d="M419.5,589.8L422.2,584.7L424.8,589.8Z" fill="#8C4A1E"/>
<path d="M418.2,572.4L420.9,567.3L423.5,572.4Z" fill="#8C4A1E"/>
<path d="M419.6,591.9L422.3,586.8L424.9,591.9Z" fill="#8C4A1E"/>
<path d="M419.9,609.2L422.5,604.1L425.2,609.2Z" fill="#8C4A1E"/>
<path d="M419.4,583.5L422.1,578.4L424.7,583.5Z" fill="#8C4A1E"/>
<path d="M418.0,575.7L420.7,570.6L423.3,575.7Z" fill="#8C4A1E"/>
<path d="M420.9,598.9L423.5,593.8L426.2,598.9Z" fill="#8C4A1E"/>
<path d="M420.6,582.7L423.2,577.6L425.9,582.7Z" fill="#8C4A1E"/>
<path d="M420.7,571.2L423.4,566.1L426.0,571.2Z" fill="#8C4A1E"/>
<path d="M418.0,569.9L420.6,564.8L423.3,569.9Z" fill="#8C4A1E"/>
<path d="M420.9,576.6L423.6,571.5L426.2,576.6Z" fill="#8C4A1E"/>
<path d="M420.8,573.1L423.4,568.0L426.1,573.1Z" fill="#8C4A1E"/>
<path d="M418.0,576.2L420.7,571.1L423.3,576.2Z" fill="#8C4A1E"/>
<path d="M419.3,592.5L422.0,587.4L424.6,592.5Z" fill="#8C4A1E"/>
<path d="M430.0,598.8L432.6,593.7L435.3,598.8Z" fill="#8C4A1E"/>
<path d="M429.0,568.7L431.7,563.6L434.3,568.7Z" fill="#8C4A1E"/>
<path d="M429.1,581.7L431.8,576.6L434.4,581.7Z" fill="#8C4A1E"/>
<path d="M428.5,616.3L431.2,611.2L433.8,616.3Z" fill="#8C4A1E"/>
<path d="M427.4,573.0L430.0,567.9L432.7,573.0Z" fill="#8C4A1E"/>
<path d="M427.1,608.3L429.7,603.2L432.4,608.3Z" fill="#8C4A1E"/>
<path d="M427.0,614.3L429.7,609.2L432.3,614.3Z" fill="#8C4A1E"/>
<path d="M428.6,601.8L431.2,596.7L433.9,601.8Z" fill="#8C4A1E"/>
<path d="M430.3,605.0L433.0,599.9L435.6,605.0Z" fill="#8C4A1E"/>
<path d="M428.5,612.0L431.2,606.9L433.8,612.0Z" fill="#8C4A1E"/>
<path d="M427.3,583.0L430.0,577.9L432.6,583.0Z" fill="#8C4A1E"/>
<path d="M428.6,604.9L431.2,599.8L433.9,604.9Z" fill="#8C4A1E"/>
<path d="M428.0,578.0L430.7,572.9L433.3,578.0Z" fill="#8C4A1E"/>
<path d="M429.0,612.2L431.7,607.1L434.3,612.2Z" fill="#8C4A1E"/>
<path d="M428.8,598.3L431.5,593.2L434.1,598.3Z" fill="#8C4A1E"/>
<path d="M429.4,589.2L432.1,584.1L434.7,589.2Z" fill="#8C4A1E"/>
<path d="M430.3,576.1L432.9,571.0L435.6,576.1Z" fill="#8C4A1E"/>
<path d="M429.0,616.7L431.6,611.6L434.3,616.7Z" fill="#8C4A1E"/>
<path d="M426.8,601.6L429.5,596.5L432.1,601.6Z" fill="#8C4A1E"/>
<path d="M427.6,568.1L430.2,563.0L432.9,568.1Z" fill="#8C4A1E"/>
<path d="M428.5,607.6L431.1,602.5L433.8,607.6Z" fill="#8C4A1E"/>
<path d="M427.1,585.5L429.7,580.4L432.4,585.5Z" fill="#8C4A1E"/>
<path d="M440.5,585.9L443.2,580.8L445.8,585.9Z" fill="#8C4A1E"/>
<path d="M441.9,570.1L444.5,565.0L447.2,570.1Z" fill="#8C4A1E"/>
<path d="M442.8,582.1L445.5,577.0L448.1,582.1Z" fill="#8C4A1E"/>
<path d="M439.8,574.5L442.4,569.4L445.1,574.5Z" fill="#8C4A1E"/>
<path d="M441.7,605.6L444.4,600.5L447.0,605.6Z" fill="#8C4A1E"/>
<path d="M439.7,598.1L442.4,593.0L445.0,598.1Z" fill="#8C4A1E"/>
<path d="M441.2,604.7L443.8,599.6L446.5,604.7Z" fill="#8C4A1E"/>
<path d="M442.1,587.1L444.7,582.0L447.4,587.1Z" fill="#8C4A1E"/>
<path d="M441.1,608.7L443.8,603.6L446.4,608.7Z" fill="#8C4A1E"/>
<path d="M443.0,607.1L445.7,602.0L448.3,607.1Z" fill="#8C4A1E"/>
<path d="M440.4,609.3L443.0,604.2L445.7,609.3Z" fill="#8C4A1E"/>
<path d="M442.7,591.5L445.4,586.4L448.0,591.5Z" fill="#8C4A1E"/>
<path d="M443.1,580.2L445.7,575.1L448.4,580.2Z" fill="#8C4A1E"/>
<path d="M441.1,584.0L443.8,578.9L446.4,584.0Z" fill="#8C4A1E"/>
<path d="M441.8,604.4L444.4,599.3L447.1,604.4Z" fill="#8C4A1E"/>
<path d="M440.8,588.7L443.4,583.6L446.1,588.7Z" fill="#8C4A1E"/>
<path d="M450.4,576.8L453.1,571.7L455.7,576.8Z" fill="#8C4A1E"/>
<path d="M450.7,580.7L453.4,575.6L456.0,580.7Z" fill="#8C4A1E"/>
<path d="M447.9,604.5L450.5,599.4L453.2,604.5Z" fill="#8C4A1E"/>
<path d="M450.0,597.5L452.7,592.4L455.3,597.5Z" fill="#8C4A1E"/>
<path d="M448.5,598.2L451.1,593.1L453.8,598.2Z" fill="#8C4A1E"/>
<path d="M448.8,604.2L451.4,599.1L454.1,604.2Z" fill="#8C4A1E"/>
<path d="M449.6,599.8L452.2,594.7L454.9,599.8Z" fill="#8C4A1E"/>
<path d="M449.0,577.7L451.6,572.6L454.3,577.7Z" fill="#8C4A1E"/>
<path d="M448.1,601.6L450.7,596.5L453.4,601.6Z" fill="#8C4A1E"/>
<path d="M449.5,607.2L452.2,602.1L454.8,607.2Z" fill="#8C4A1E"/>
<path d="M449.5,598.0L452.2,592.9L454.8,598.0Z" fill="#8C4A1E"/>
<path d="M450.3,593.0L452.9,587.9L455.6,593.0Z" fill="#8C4A1E"/>
<path d="M449.2,600.7L451.8,595.6L454.5,600.7Z" fill="#8C4A1E"/>
<path d="M448.6,586.2L451.2,581.1L453.9,586.2Z" fill="#8C4A1E"/>
<path d="M450.1,584.1L452.7,579.0L455.4,584.1Z" fill="#8C4A1E"/>
<path d="M450.1,597.0L452.8,591.9L455.4,597.0Z" fill="#8C4A1E"/>
<path d="M454.7,587.6L457.4,582.5L460.0,587.6Z" fill="#8C4A1E"/>
<path d="M453.6,581.7L456.3,576.6L458.9,581.7Z" fill="#8C4A1E"/>
<path d="M453.6,585.9L456.3,580.8L458.9,585.9Z" fill="#8C4A1E"/>
<path d="M453.4,596.0L456.1,590.9L458.7,596.0Z" fill="#8C4A1E"/>
<path d="M454.6,582.9L457.3,577.8L459.9,582.9Z" fill="#8C4A1E"/>
<path d="M454.4,593.1L457.1,588.0L459.7,593.1Z" fill="#8C4A1E"/>
<path d="M454.9,578.4L457.5,573.3L460.2,578.4Z" fill="#8C4A1E"/>
<path d="M454.5,598.5L457.2,593.4L459.8,598.5Z" fill="#8C4A1E"/>
<path d="M455.7,595.5L458.4,590.4L461.0,595.5Z" fill="#8C4A1E"/>
<path d="M455.8,584.8L458.5,579.7L461.1,584.8Z" fill="#8C4A1E"/>
<path d="M454.7,590.5L457.3,585.4L460.0,590.5Z" fill="#8C4A1E"/>
<path d="M455.9,595.9L458.5,590.8L461.2,595.9Z" fill="#8C4A1E"/>
<path d="M463.5,614.5L466.1,609.4L468.8,614.5Z" fill="#8C4A1E"/>
<path d="M462.5,591.3L465.2,586.2L467.8,591.3Z" fill="#8C4A1E"/>
<path d="M465.4,606.4L468.0,601.3L470.7,606.4Z" fill="#8C4A1E"/>
<path d="M464.4,591.4L467.1,586.3L469.7,591.4Z" fill="#8C4A1E"/>
<path d="M463.1,564.3L465.8,559.2L468.4,564.3Z" fill="#8C4A1E"/>
<path d="M463.7,573.1L466.4,568.0L469.0,573.1Z" fill="#8C4A1E"/>
<path d="M462.3,584.5L465.0,579.4L467.6,584.5Z" fill="#8C4A1E"/>
<path d="M463.9,602.1L466.5,597.0L469.2,602.1Z" fill="#8C4A1E"/>
<path d="M464.8,586.8L467.4,581.7L470.1,586.8Z" fill="#8C4A1E"/>
<path d="M463.1,606.2L465.8,601.1L468.4,606.2Z" fill="#8C4A1E"/>
<path d="M461.9,591.6L464.5,586.5L467.2,591.6Z" fill="#8C4A1E"/>
<path d="M461.9,593.8L464.6,588.7L467.2,593.8Z" fill="#8C4A1E"/>
<path d="M462.2,562.3L464.9,557.2L467.5,562.3Z" fill="#8C4A1E"/>
<path d="M464.7,593.1L467.4,588.0L470.0,593.1Z" fill="#8C4A1E"/>
<path d="M464.3,573.4L466.9,568.3L469.6,573.4Z" fill="#8C4A1E"/>
<path d="M463.5,625.9L466.2,620.8L468.8,625.9Z" fill="#8C4A1E"/>
<path d="M462.1,600.8L464.8,595.7L467.4,600.8Z" fill="#8C4A1E"/>
<path d="M464.3,624.0L467.0,618.9L469.6,624.0Z" fill="#8C4A1E"/>
<path d="M464.7,581.5L467.3,576.4L470.0,581.5Z" fill="#8C4A1E"/>
<path d="M461.9,591.4L464.5,586.3L467.2,591.4Z" fill="#8C4A1E"/>
<path d="M467.9,582.0L470.6,576.9L473.2,582.0Z" fill="#8C4A1E"/>
<path d="M469.1,622.5L471.7,617.4L474.4,622.5Z" fill="#8C4A1E"/>
<path d="M469.6,621.9L472.3,616.8L474.9,621.9Z" fill="#8C4A1E"/>
<path d="M470.5,627.0L473.1,621.9L475.8,627.0Z" fill="#8C4A1E"/>
<path d="M469.6,600.7L472.3,595.6L474.9,600.7Z" fill="#8C4A1E"/>
<path d="M468.9,615.3L471.5,610.2L474.2,615.3Z" fill="#8C4A1E"/>
<path d="M470.4,608.6L473.0,603.5L475.7,608.6Z" fill="#8C4A1E"/>
<path d="M470.1,626.5L472.7,621.4L475.4,626.5Z" fill="#8C4A1E"/>
<path d="M469.7,599.4L472.4,594.3L475.0,599.4Z" fill="#8C4A1E"/>
<path d="M468.3,585.5L470.9,580.4L473.6,585.5Z" fill="#8C4A1E"/>
<path d="M470.4,608.7L473.0,603.6L475.7,608.7Z" fill="#8C4A1E"/>
<path d="M468.2,602.1L470.9,597.0L473.5,602.1Z" fill="#8C4A1E"/>
<path d="M471.0,578.2L473.7,573.1L476.3,578.2Z" fill="#8C4A1E"/>
<path d="M471.0,571.3L473.7,566.2L476.3,571.3Z" fill="#8C4A1E"/>
<path d="M477.1,599.8L479.8,594.7L482.4,599.8Z" fill="#8C4A1E"/>
<path d="M477.1,561.1L479.7,556.0L482.4,561.1Z" fill="#8C4A1E"/>
<path d="M476.0,561.0L478.6,555.9L481.3,561.0Z" fill="#8C4A1E"/>
<path d="M476.9,560.6L479.5,555.5L482.2,560.6Z" fill="#8C4A1E"/>
<path d="M476.0,595.4L478.6,590.3L481.3,595.4Z" fill="#8C4A1E"/>
<path d="M474.3,583.3L476.9,578.2L479.6,583.3Z" fill="#8C4A1E"/>
<path d="M473.6,587.4L476.2,582.3L478.9,587.4Z" fill="#8C4A1E"/>
<path d="M474.9,607.3L477.6,602.2L480.2,607.3Z" fill="#8C4A1E"/>
<path d="M475.5,605.5L478.1,600.4L480.8,605.5Z" fill="#8C4A1E"/>
<path d="M474.5,603.3L477.1,598.2L479.8,603.3Z" fill="#8C4A1E"/>
<path d="M475.0,597.0L477.7,591.9L480.3,597.0Z" fill="#8C4A1E"/>
<path d="M476.6,605.9L479.2,600.8L481.9,605.9Z" fill="#8C4A1E"/>
<path d="M474.8,595.5L477.4,590.4L480.1,595.5Z" fill="#8C4A1E"/>
<path d="M479.6,592.1L482.3,587.0L484.9,592.1Z" fill="#8C4A1E"/>
<path d="M483.0,598.7L485.6,593.6L488.3,598.7Z" fill="#8C4A1E"/>
<path d="M480.1,590.3L482.7,585.2L485.4,590.3Z" fill="#8C4A1E"/>
<path d="M480.6,579.1L483.2,574.0L485.9,579.1Z" fill="#8C4A1E"/>
<path d="M481.2,602.3L483.9,597.2L486.5,602.3Z" fill="#8C4A1E"/>
<path d="M480.4,591.5L483.1,586.4L485.7,591.5Z" fill="#8C4A1E"/>
<path d="M479.6,581.6L482.2,576.5L484.9,581.6Z" fill="#8C4A1E"/>
<path d="M481.3,593.6L484.0,588.5L486.6,593.6Z" fill="#8C4A1E"/>
<path d="M480.9,570.6L483.6,565.5L486.2,570.6Z" fill="#8C4A1E"/>
<path d="M482.4,587.5L485.0,582.4L487.7,587.5Z" fill="#8C4A1E"/>
<path d="M479.6,608.3L482.2,603.2L484.9,608.3Z" fill="#8C4A1E"/>
<path d="M481.2,590.0L483.8,584.9L486.5,590.0Z" fill="#8C4A1E"/>
<path d="M480.9,600.5L483.6,595.4L486.2,600.5Z" fill="#8C4A1E"/>
<path d="M480.3,570.7L482.9,565.6L485.6,570.7Z" fill="#8C4A1E"/>
<path d="M482.9,583.5L485.5,578.4L488.2,583.5Z" fill="#8C4A1E"/>
<path d="M481.0,598.6L483.6,593.5L486.3,598.6Z" fill="#8C4A1E"/>
<path d="M488.0,590.4L490.6,585.3L493.3,590.4Z" fill="#8C4A1E"/>
<path d="M487.6,597.0L490.2,591.9L492.9,597.0Z" fill="#8C4A1E"/>
<path d="M488.5,591.4L491.2,586.3L493.8,591.4Z" fill="#8C4A1E"/>
<path d="M488.7,574.5L491.4,569.4L494.0,574.5Z" fill="#8C4A1E"/>
<path d="M487.4,596.6L490.0,591.5L492.7,596.6Z" fill="#8C4A1E"/>
<path d="M486.5,598.0L489.2,592.9L491.8,598.0Z" fill="#8C4A1E"/>
<path d="M487.8,568.3L490.4,563.2L493.1,568.3Z" fill="#8C4A1E"/>
<path d="M486.8,562.2L489.5,557.1L492.1,562.2Z" fill="#8C4A1E"/>
<path d="M487.6,597.0L490.3,591.9L492.9,597.0Z" fill="#8C4A1E"/>
<path d="M486.4,596.6L489.1,591.5L491.7,596.6Z" fill="#8C4A1E"/>
<path d="M489.0,568.6L491.7,563.5L494.3,568.6Z" fill="#8C4A1E"/>
<path d="M486.2,593.5L488.9,588.4L491.5,593.5Z" fill="#8C4A1E"/>
<path d="M487.0,591.3L489.7,586.2L492.3,591.3Z" fill="#8C4A1E"/>
<path d="M485.7,587.8L488.3,582.7L491.0,587.8Z" fill="#8C4A1E"/>
<path d="M486.3,588.9L488.9,583.8L491.6,588.9Z" fill="#8C4A1E"/>
<path d="M486.5,597.6L489.1,592.5L491.8,597.6Z" fill="#8C4A1E"/>
<path d="M492.7,592.9L495.3,587.8L498.0,592.9Z" fill="#8C4A1E"/>
<path d="M491.7,614.3L494.3,609.2L497.0,614.3Z" fill="#8C4A1E"/>
<path d="M493.9,602.4L496.6,597.3L499.2,602.4Z" fill="#8C4A1E"/>
<path d="M492.0,593.1L494.6,588.0L497.3,593.1Z" fill="#8C4A1E"/>
<path d="M492.0,615.5L494.6,610.4L497.3,615.5Z" fill="#8C4A1E"/>
<path d="M494.5,573.7L497.2,568.6L499.8,573.7Z" fill="#8C4A1E"/>
<path d="M493.4,580.5L496.0,575.4L498.7,580.5Z" fill="#8C4A1E"/>
<path d="M495.0,606.2L497.7,601.1L500.3,606.2Z" fill="#8C4A1E"/>
<path d="M492.4,575.4L495.1,570.3L497.7,575.4Z" fill="#8C4A1E"/>
<path d="M492.8,581.4L495.5,576.3L498.1,581.4Z" fill="#8C4A1E"/>
<path d="M492.8,598.9L495.4,593.8L498.1,598.9Z" fill="#8C4A1E"/>
<path d="M492.8,612.5L495.5,607.4L498.1,612.5Z" fill="#8C4A1E"/>
<path d="M491.8,588.4L494.5,583.3L497.1,588.4Z" fill="#8C4A1E"/>
<path d="M493.6,563.7L496.2,558.6L498.9,563.7Z" fill="#8C4A1E"/>
<path d="M493.5,574.3L496.2,569.2L498.8,574.3Z" fill="#8C4A1E"/>
<path d="M494.9,563.8L497.6,558.7L500.2,563.8Z" fill="#8C4A1E"/>
<path d="M494.5,612.7L497.2,607.6L499.8,612.7Z" fill="#8C4A1E"/>
<path d="M498.4,590.0L501.1,584.9L503.7,590.0Z" fill="#8C4A1E"/>
<path d="M500.1,566.4L502.7,561.3L505.4,566.4Z" fill="#8C4A1E"/>
<path d="M500.2,590.2L502.8,585.1L505.5,590.2Z" fill="#8C4A1E"/>
<path d="M498.8,580.8L501.4,575.7L504.1,580.8Z" fill="#8C4A1E"/>
<path d="M500.8,572.0L503.5,566.9L506.1,572.0Z" fill="#8C4A1E"/>
<path d="M500.0,611.3L502.6,606.2L505.3,611.3Z" fill="#8C4A1E"/>
<path d="M499.6,581.8L502.3,576.7L504.9,581.8Z" fill="#8C4A1E"/>
<path d="M500.7,575.2L503.3,570.1L506.0,575.2Z" fill="#8C4A1E"/>
<path d="M499.3,579.0L502.0,573.9L504.6,579.0Z" fill="#8C4A1E"/>
<path d="M499.4,589.3L502.0,584.2L504.7,589.3Z" fill="#8C4A1E"/>
<path d="M499.1,597.0L501.8,591.9L504.4,597.0Z" fill="#8C4A1E"/>
<path d="M500.1,611.5L502.8,606.4L505.4,611.5Z" fill="#8C4A1E"/>
<path d="M501.0,575.0L503.7,569.9L506.3,575.0Z" fill="#8C4A1E"/>
<path d="M497.8,607.4L500.4,602.3L503.1,607.4Z" fill="#8C4A1E"/>
<path d="M498.3,611.7L501.0,606.6L503.6,611.7Z" fill="#8C4A1E"/>
<path d="M499.8,584.8L502.4,579.7L505.1,584.8Z" fill="#8C4A1E"/>
<path d="M500.0,581.2L502.6,576.1L505.3,581.2Z" fill="#8C4A1E"/>
<path d="M503.9,608.0L506.6,602.9L509.2,608.0Z" fill="#8C4A1E"/>
<path d="M506.0,606.6L508.6,601.5L511.3,606.6Z" fill="#8C4A1E"/>
<path d="M505.6,584.1L508.3,579.0L510.9,584.1Z" fill="#8C4A1E"/>
<path d="M504.6,586.1L507.2,581.0L509.9,586.1Z" fill="#8C4A1E"/>
<path d="M505.5,608.0L508.1,602.9L510.8,608.0Z" fill="#8C4A1E"/>
<path d="M505.4,602.1L508.0,597.0L510.7,602.1Z" fill="#8C4A1E"/>
<path d="M506.5,613.4L509.1,608.3L511.8,613.4Z" fill="#8C4A1E"/>
<path d="M506.6,597.9L509.2,592.8L511.9,597.9Z" fill="#8C4A1E"/>
<path d="M504.7,583.9L507.4,578.8L510.0,583.9Z" fill="#8C4A1E"/>
<path d="M504.2,578.7L506.8,573.6L509.5,578.7Z" fill="#8C4A1E"/>
<path d="M504.8,584.0L507.5,578.9L510.1,584.0Z" fill="#8C4A1E"/>
<path d="M503.7,568.9L506.4,563.8L509.0,568.9Z" fill="#8C4A1E"/>
<path d="M505.4,584.7L508.0,579.6L510.7,584.7Z" fill="#8C4A1E"/>
<path d="M507.1,582.0L509.8,576.9L512.4,582.0Z" fill="#8C4A1E"/>
<path d="M506.3,569.4L509.0,564.3L511.6,569.4Z" fill="#8C4A1E"/>
<path d="M506.4,599.8L509.1,594.7L511.7,599.8Z" fill="#8C4A1E"/>
<path d="M506.3,600.2L508.9,595.1L511.6,600.2Z" fill="#8C4A1E"/>
<path d="M505.5,595.1L508.2,590.0L510.8,595.1Z" fill="#8C4A1E"/>
<path d="M507.1,593.5L509.8,588.4L512.4,593.5Z" fill="#8C4A1E"/>
<path d="M504.8,599.5L507.5,594.4L510.1,599.5Z" fill="#8C4A1E"/>
<path d="M503.8,596.1L506.4,591.0L509.1,596.1Z" fill="#8C4A1E"/>
<path d="M506.9,577.7L509.6,572.6L512.2,577.7Z" fill="#8C4A1E"/>
<path d="M504.2,583.1L506.8,578.0L509.5,583.1Z" fill="#8C4A1E"/>
<path d="M505.1,598.4L507.7,593.3L510.4,598.4Z" fill="#8C4A1E"/>
<path d="M503.6,598.3L506.3,593.2L508.9,598.3Z" fill="#8C4A1E"/>
<path d="M511.0,574.4L513.6,569.3L516.3,574.4Z" fill="#8C4A1E"/>
<path d="M513.0,591.2L515.7,586.1L518.3,591.2Z" fill="#8C4A1E"/>
<path d="M510.8,582.8L513.4,577.7L516.1,582.8Z" fill="#8C4A1E"/>
<path d="M511.9,576.8L514.5,571.7L517.2,576.8Z" fill="#8C4A1E"/>
<path d="M512.0,580.7L514.6,575.6L517.3,580.7Z" fill="#8C4A1E"/>
<path d="M511.8,588.3L514.5,583.2L517.1,588.3Z" fill="#8C4A1E"/>
<path d="M511.2,582.5L513.9,577.4L516.5,582.5Z" fill="#8C4A1E"/>
<path d="M509.8,569.4L512.4,564.3L515.1,569.4Z" fill="#8C4A1E"/>
<path d="M510.1,600.3L512.8,595.2L515.4,600.3Z" fill="#8C4A1E"/>
<path d="M511.1,595.3L513.7,590.2L516.4,595.3Z" fill="#8C4A1E"/>
<path d="M511.7,590.5L514.4,585.4L517.0,590.5Z" fill="#8C4A1E"/>
<path d="M512.3,594.0L514.9,588.9L517.6,594.0Z" fill="#8C4A1E"/>
<path d="M511.4,601.9L514.1,596.8L516.7,601.9Z" fill="#8C4A1E"/>
<path d="M510.9,568.6L513.5,563.5L516.2,568.6Z" fill="#8C4A1E"/>
<path d="M512.9,572.7L515.6,567.6L518.2,572.7Z" fill="#8C4A1E"/>
<path d="M512.9,598.9L515.5,593.8L518.2,598.9Z" fill="#8C4A1E"/>
<path d="M510.7,584.3L513.4,579.2L516.0,584.3Z" fill="#8C4A1E"/>
<path d="M512.9,593.9L515.5,588.8L518.2,593.9Z" fill="#8C4A1E"/>
<path d="M510.4,589.3L513.0,584.2L515.7,589.3Z" fill="#8C4A1E"/>
<path d="M513.1,577.0L515.8,571.9L518.4,577.0Z" fill="#8C4A1E"/>
<path d="M512.7,594.3L515.3,589.2L518.0,594.3Z" fill="#8C4A1E"/>
<path d="M512.8,588.5L515.4,583.4L518.1,588.5Z" fill="#8C4A1E"/>
<path d="M517.6,574.9L520.3,569.8L522.9,574.9Z" fill="#8C4A1E"/>
<path d="M519.1,608.5L521.8,603.4L524.4,608.5Z" fill="#8C4A1E"/>
<path d="M516.1,607.7L518.7,602.6L521.4,607.7Z" fill="#8C4A1E"/>
<path d="M518.9,596.1L521.5,591.0L524.2,596.1Z" fill="#8C4A1E"/>
<path d="M518.0,605.5L520.7,600.4L523.3,605.5Z" fill="#8C4A1E"/>
<path d="M515.9,574.9L518.6,569.8L521.2,574.9Z" fill="#8C4A1E"/>
<path d="M516.0,570.4L518.6,565.3L521.3,570.4Z" fill="#8C4A1E"/>
<path d="M518.0,592.1L520.7,587.0L523.3,592.1Z" fill="#8C4A1E"/>
<path d="M516.8,576.5L519.5,571.4L522.1,576.5Z" fill="#8C4A1E"/>
<path d="M519.0,595.2L521.7,590.1L524.3,595.2Z" fill="#8C4A1E"/>
<path d="M515.7,590.4L518.4,585.3L521.0,590.4Z" fill="#8C4A1E"/>
<path d="M515.6,588.4L518.2,583.3L520.9,588.4Z" fill="#8C4A1E"/>
<path d="M518.0,595.3L520.7,590.2L523.3,595.3Z" fill="#8C4A1E"/>
<path d="M519.1,603.2L521.7,598.1L524.4,603.2Z" fill="#8C4A1E"/>
<path d="M519.1,589.2L521.8,584.1L524.4,589.2Z" fill="#8C4A1E"/>
<path d="M516.4,566.4L519.1,561.3L521.7,566.4Z" fill="#8C4A1E"/>
<path d="M518.8,570.5L521.5,565.4L524.1,570.5Z" fill="#8C4A1E"/>
<path d="M517.5,574.0L520.2,568.9L522.8,574.0Z" fill="#8C4A1E"/>
<path d="M518.6,613.9L521.3,608.8L523.9,613.9Z" fill="#8C4A1E"/>
<path d="M516.9,585.9L519.6,580.8L522.2,585.9Z" fill="#8C4A1E"/>
<path d="M518.0,596.8L520.6,591.7L523.3,596.8Z" fill="#8C4A1E"/>
<path d="M517.8,582.4L520.4,577.3L523.1,582.4Z" fill="#8C4A1E"/>
<path d="M523.4,583.0L526.1,577.9L528.7,583.0Z" fill="#8C4A1E"/>
<path d="M523.5,602.2L526.1,597.1L528.8,602.2Z" fill="#8C4A1E"/>
<path d="M523.2,602.0L525.9,596.9L528.5,602.0Z" fill="#8C4A1E"/>
<path d="M524.5,609.4L527.2,604.3L529.8,609.4Z" fill="#8C4A1E"/>
<path d="M524.4,593.7L527.1,588.6L529.7,593.7Z" fill="#8C4A1E"/>
<path d="M525.1,605.7L527.8,600.6L530.4,605.7Z" fill="#8C4A1E"/>
<path d="M524.3,597.1L526.9,592.0L529.6,597.1Z" fill="#8C4A1E"/>
<path d="M522.4,581.1L525.1,576.0L527.7,581.1Z" fill="#8C4A1E"/>
<path d="M521.8,596.6L524.4,591.5L527.1,596.6Z" fill="#8C4A1E"/>
<path d="M522.4,585.7L525.1,580.6L527.7,585.7Z" fill="#8C4A1E"/>
<path d="M524.4,603.4L527.1,598.3L529.7,603.4Z" fill="#8C4A1E"/>
<path d="M522.9,609.2L525.5,604.1L528.2,609.2Z" fill="#8C4A1E"/>
<path d="M524.5,599.6L527.1,594.5L529.8,599.6Z" fill="#8C4A1E"/>
<path d="M522.2,582.9L524.9,577.8L527.5,582.9Z" fill="#8C4A1E"/>
<path d="M524.3,591.5L526.9,586.4L529.6,591.5Z" fill="#8C4A1E"/>
<path d="M524.3,586.3L526.9,581.2L529.6,586.3Z" fill="#8C4A1E"/>
<path d="M524.6,571.1L527.2,566.0L529.9,571.1Z" fill="#8C4A1E"/>
<path d="M524.5,587.6L527.2,582.5L529.8,587.6Z" fill="#8C4A1E"/>
<path d="M524.0,598.4L526.6,593.3L529.3,598.4Z" fill="#8C4A1E"/>
<path d="M530.5,600.3L533.1,595.2L535.8,600.3Z" fill="#8C4A1E"/>
<path d="M530.1,609.9L532.8,604.8L535.4,609.9Z" fill="#8C4A1E"/>
<path d="M529.7,582.0L532.3,576.9L535.0,582.0Z" fill="#8C4A1E"/>
<path d="M528.5,610.6L531.2,605.5L533.8,610.6Z" fill="#8C4A1E"/>
<path d="M529.6,589.4L532.2,584.3L534.9,589.4Z" fill="#8C4A1E"/>
<path d="M530.7,607.4L533.3,602.3L536.0,607.4Z" fill="#8C4A1E"/>
<path d="M527.7,605.5L530.4,600.4L533.0,605.5Z" fill="#8C4A1E"/>
<path d="M529.7,591.5L532.3,586.4L535.0,591.5Z" fill="#8C4A1E"/>
<path d="M529.6,595.8L532.2,590.7L534.9,595.8Z" fill="#8C4A1E"/>
<path d="M529.6,570.4L532.2,565.3L534.9,570.4Z" fill="#8C4A1E"/>
<path d="M529.7,576.8L532.3,571.7L535.0,576.8Z" fill="#8C4A1E"/>
<path d="M527.8,589.4L530.4,584.3L533.1,589.4Z" fill="#8C4A1E"/>
<path d="M527.8,606.5L530.5,601.4L533.1,606.5Z" fill="#8C4A1E"/>
<path d="M530.0,581.1L532.6,576.0L535.3,581.1Z" fill="#8C4A1E"/>
<path d="M528.1,603.6L530.7,598.5L533.4,603.6Z" fill="#8C4A1E"/>
<path d="M528.5,601.3L531.1,596.2L533.8,601.3Z" fill="#8C4A1E"/>
<path d="M528.1,585.5L530.8,580.4L533.4,585.5Z" fill="#8C4A1E"/>
<path d="M528.9,602.4L531.6,597.3L534.2,602.4Z" fill="#8C4A1E"/>
<path d="M529.2,592.3L531.9,587.2L534.5,592.3Z" fill="#8C4A1E"/>
<path d="M536.5,593.0L539.2,587.9L541.8,593.0Z" fill="#8C4A1E"/>
<path d="M534.8,576.3L537.5,571.2L540.1,576.3Z" fill="#8C4A1E"/>
<path d="M535.7,600.2L538.4,595.1L541.0,600.2Z" fill="#8C4A1E"/>
<path d="M536.8,605.3L539.4,600.2L542.1,605.3Z" fill="#8C4A1E"/>
<path d="M535.9,599.4L538.6,594.3L541.2,599.4Z" fill="#8C4A1E"/>
<path d="M536.2,573.5L538.9,568.4L541.5,573.5Z" fill="#8C4A1E"/>
<path d="M535.6,585.6L538.2,580.5L540.9,585.6Z" fill="#8C4A1E"/>
<path d="M535.2,571.1L537.9,566.0L540.5,571.1Z" fill="#8C4A1E"/>
<path d="M534.0,582.2L536.7,577.1L539.3,582.2Z" fill="#8C4A1E"/>
<path d="M534.1,597.7L536.8,592.6L539.4,597.7Z" fill="#8C4A1E"/>
<path d="M536.7,583.9L539.3,578.8L542.0,583.9Z" fill="#8C4A1E"/>
<path d="M534.0,606.3L536.6,601.2L539.3,606.3Z" fill="#8C4A1E"/>
<path d="M534.1,605.4L536.8,600.3L539.4,605.4Z" fill="#8C4A1E"/>
<path d="M535.0,596.7L537.7,591.6L540.3,596.7Z" fill="#8C4A1E"/>
<path d="M535.4,589.3L538.0,584.2L540.7,589.3Z" fill="#8C4A1E"/>
<path d="M536.3,595.5L538.9,590.4L541.6,595.5Z" fill="#8C4A1E"/>
<path d="M535.4,603.9L538.1,598.8L540.7,603.9Z" fill="#8C4A1E"/>
<path d="M534.4,602.5L537.0,597.4L539.7,602.5Z" fill="#8C4A1E"/>
<path d="M537.1,602.5L539.7,597.4L542.4,602.5Z" fill="#8C4A1E"/>
<path d="M539.8,570.1L542.4,565.0L545.1,570.1Z" fill="#8C4A1E"/>
<path d="M541.0,595.9L543.6,590.8L546.3,595.9Z" fill="#8C4A1E"/>
<path d="M539.3,590.7L542.0,585.6L544.6,590.7Z" fill="#8C4A1E"/>
<path d="M541.4,585.2L544.0,580.1L546.7,585.2Z" fill="#8C4A1E"/>
<path d="M541.4,590.4L544.0,585.3L546.7,590.4Z" fill="#8C4A1E"/>
<path d="M542.0,578.2L544.7,573.1L547.3,578.2Z" fill="#8C4A1E"/>
<path d="M541.9,606.3L544.6,601.2L547.2,606.3Z" fill="#8C4A1E"/>
<path d="M541.5,599.3L544.2,594.2L546.8,599.3Z" fill="#8C4A1E"/>
<path d="M540.5,604.4L543.1,599.3L545.8,604.4Z" fill="#8C4A1E"/>
<path d="M540.2,590.9L542.8,585.8L545.5,590.9Z" fill="#8C4A1E"/>
<path d="M541.4,576.0L544.0,570.9L546.7,576.0Z" fill="#8C4A1E"/>
<path d="M540.9,602.3L543.5,597.2L546.2,602.3Z" fill="#8C4A1E"/>
<path d="M538.9,593.4L541.6,588.3L544.2,593.4Z" fill="#8C4A1E"/>
<path d="M539.8,598.4L542.5,593.3L545.1,598.4Z" fill="#8C4A1E"/>
<path d="M540.1,590.9L542.8,585.8L545.4,590.9Z" fill="#8C4A1E"/>
<path d="M538.7,606.6L541.3,601.5L544.0,606.6Z" fill="#8C4A1E"/>
<path d="M551.8,586.1L554.4,581.0L557.1,586.1Z" fill="#8C4A1E"/>
<path d="M552.0,598.0L554.6,592.9L557.3,598.0Z" fill="#8C4A1E"/>
<path d="M549.1,602.8L551.8,597.7L554.4,602.8Z" fill="#8C4A1E"/>
<path d="M549.5,578.2L552.1,573.1L554.8,578.2Z" fill="#8C4A1E"/>
<path d="M550.4,582.6L553.0,577.5L555.7,582.6Z" fill="#8C4A1E"/>
<path d="M550.1,606.2L552.8,601.1L555.4,606.2Z" fill="#8C4A1E"/>
<path d="M551.0,600.5L553.6,595.4L556.3,600.5Z" fill="#8C4A1E"/>
<path d="M551.0,607.6L553.7,602.5L556.3,607.6Z" fill="#8C4A1E"/>
<path d="M551.2,582.1L553.8,577.0L556.5,582.1Z" fill="#8C4A1E"/>
<path d="M550.6,599.4L553.3,594.3L555.9,599.4Z" fill="#8C4A1E"/>
<path d="M549.6,566.3L552.2,561.2L554.9,566.3Z" fill="#8C4A1E"/>
<path d="M549.9,579.1L552.6,574.0L555.2,579.1Z" fill="#8C4A1E"/>
<path d="M551.5,608.6L554.2,603.5L556.8,608.6Z" fill="#8C4A1E"/>
<path d="M549.6,580.8L552.3,575.7L554.9,580.8Z" fill="#8C4A1E"/>
<path d="M549.3,593.1L551.9,588.0L554.6,593.1Z" fill="#8C4A1E"/>
<path d="M550.0,601.9L552.6,596.8L555.3,601.9Z" fill="#8C4A1E"/>
<path d="M565.5,592.4L568.2,587.3L570.8,592.4Z" fill="#8C4A1E"/>
<path d="M563.4,586.8L566.0,581.7L568.7,586.8Z" fill="#8C4A1E"/>
<path d="M564.7,583.7L567.3,578.6L570.0,583.7Z" fill="#8C4A1E"/>
<path d="M564.2,596.7L566.8,591.6L569.5,596.7Z" fill="#8C4A1E"/>
<path d="M562.4,590.7L565.0,585.6L567.7,590.7Z" fill="#8C4A1E"/>
<path d="M563.2,598.1L565.9,593.0L568.5,598.1Z" fill="#8C4A1E"/>
<path d="M564.7,584.6L567.3,579.5L570.0,584.6Z" fill="#8C4A1E"/>
<path d="M564.6,596.9L567.2,591.8L569.9,596.9Z" fill="#8C4A1E"/>
<path d="M564.9,595.2L567.6,590.1L570.2,595.2Z" fill="#8C4A1E"/>
<path d="M570.5,597.9L573.1,592.8L575.8,597.9Z" fill="#8C4A1E"/>
<path d="M570.0,597.3L572.7,592.2L575.3,597.3Z" fill="#8C4A1E"/>
<path d="M570.0,584.3L572.7,579.2L575.3,584.3Z" fill="#8C4A1E"/>
<path d="M571.6,578.7L574.2,573.6L576.9,578.7Z" fill="#8C4A1E"/>
<path d="M571.8,570.7L574.4,565.6L577.1,570.7Z" fill="#8C4A1E"/>
<path d="M570.8,596.5L573.4,591.4L576.1,596.5Z" fill="#8C4A1E"/>
<path d="M569.5,578.7L572.2,573.6L574.8,578.7Z" fill="#8C4A1E"/>
<path d="M572.1,599.1L574.7,594.0L577.4,599.1Z" fill="#8C4A1E"/>
<path d="M568.8,567.8L571.4,562.7L574.1,567.8Z" fill="#8C4A1E"/>
<path d="M569.8,599.6L572.4,594.5L575.1,599.6Z" fill="#8C4A1E"/>
<path d="M569.3,595.8L572.0,590.7L574.6,595.8Z" fill="#8C4A1E"/>
<path d="M571.4,603.2L574.0,598.1L576.7,603.2Z" fill="#8C4A1E"/>
<path d="M570.8,569.4L573.5,564.3L576.1,569.4Z" fill="#8C4A1E"/>
<path d="M570.7,602.3L573.3,597.2L576.0,602.3Z" fill="#8C4A1E"/>
<path d="M570.2,580.6L572.8,575.5L575.5,580.6Z" fill="#8C4A1E"/>
<path d="M569.2,599.0L571.9,593.9L574.5,599.0Z" fill="#8C4A1E"/>
<path d="M570.4,599.6L573.1,594.5L575.7,599.6Z" fill="#8C4A1E"/>
<path d="M569.5,580.8L572.2,575.7L574.8,580.8Z" fill="#8C4A1E"/>
<path d="M568.8,584.1L571.4,579.0L574.1,584.1Z" fill="#8C4A1E"/>
<path d="M581.3,594.2L584.0,589.1L586.6,594.2Z" fill="#8C4A1E"/>
<path d="M581.9,579.5L584.6,574.4L587.2,579.5Z" fill="#8C4A1E"/>
<path d="M581.8,597.1L584.5,592.0L587.1,597.1Z" fill="#8C4A1E"/>
<path d="M579.5,589.0L582.2,583.9L584.8,589.0Z" fill="#8C4A1E"/>
<path d="M580.0,580.4L582.6,575.3L585.3,580.4Z" fill="#8C4A1E"/>
<path d="M582.6,576.5L585.2,571.4L587.9,576.5Z" fill="#8C4A1E"/>
<path d="M582.1,590.1L584.7,585.0L587.4,590.1Z" fill="#8C4A1E"/>
<path d="M580.7,578.6L583.4,573.5L586.0,578.6Z" fill="#8C4A1E"/>
<path d="M580.2,578.0L582.9,572.9L585.5,578.0Z" fill="#8C4A1E"/>
<path d="M591.9,600.5L594.5,595.4L597.2,600.5Z" fill="#8C4A1E"/>
<path d="M593.3,594.1L595.9,589.0L598.6,594.1Z" fill="#8C4A1E"/>
<path d="M593.4,589.3L596.1,584.2L598.7,589.3Z" fill="#8C4A1E"/>
<path d="M591.3,610.2L594.0,605.1L596.6,610.2Z" fill="#8C4A1E"/>
<path d="M592.0,593.2L594.7,588.1L597.3,593.2Z" fill="#8C4A1E"/>
<path d="M594.4,601.3L597.1,596.2L599.7,601.3Z" fill="#8C4A1E"/>
<path d="M592.0,605.1L594.6,600.0L597.3,605.1Z" fill="#8C4A1E"/>
<path d="M593.8,588.5L596.5,583.4L599.1,588.5Z" fill="#8C4A1E"/>
<path d="M594.5,598.2L597.1,593.1L599.8,598.2Z" fill="#8C4A1E"/>
<path d="M600.8,602.4L603.5,597.3L606.1,602.4Z" fill="#8C4A1E"/>
<path d="M601.1,591.0L603.8,585.9L606.4,591.0Z" fill="#8C4A1E"/>
<path d="M603.6,596.6L606.3,591.5L608.9,596.6Z" fill="#8C4A1E"/>
<path d="M602.4,578.1L605.0,573.0L607.7,578.1Z" fill="#8C4A1E"/>
<path d="M601.1,584.1L603.8,579.0L606.4,584.1Z" fill="#8C4A1E"/>
<path d="M603.8,576.7L606.5,571.6L609.1,576.7Z" fill="#8C4A1E"/>
<path d="M601.3,578.5L603.9,573.4L606.6,578.5Z" fill="#8C4A1E"/>
<path d="M602.6,586.2L605.3,581.1L607.9,586.2Z" fill="#8C4A1E"/>
<path d="M604.0,584.1L606.7,579.0L609.3,584.1Z" fill="#8C4A1E"/>
<path d="M602.3,591.8L605.0,586.7L607.6,591.8Z" fill="#8C4A1E"/>
<path d="M601.9,603.1L604.6,598.0L607.2,603.1Z" fill="#8C4A1E"/>
<path d="M603.5,567.5L606.1,562.4L608.8,567.5Z" fill="#8C4A1E"/>
<path d="M601.6,584.2L604.2,579.1L606.9,584.2Z" fill="#8C4A1E"/>
<path d="M603.5,608.4L606.2,603.3L608.8,608.4Z" fill="#8C4A1E"/>
<path d="M602.7,586.1L605.3,581.0L608.0,586.1Z" fill="#8C4A1E"/>
<path d="M602.2,589.3L604.9,584.2L607.5,589.3Z" fill="#8C4A1E"/>
<path d="M609.1,587.7L611.8,582.6L614.4,587.7Z" fill="#8C4A1E"/>
<path d="M608.2,572.8L610.9,567.7L613.5,572.8Z" fill="#8C4A1E"/>
<path d="M607.9,604.7L610.5,599.6L613.2,604.7Z" fill="#8C4A1E"/>
<path d="M606.6,589.8L609.3,584.7L611.9,589.8Z" fill="#8C4A1E"/>
<path d="M607.3,572.4L610.0,567.3L612.6,572.4Z" fill="#8C4A1E"/>
<path d="M606.6,595.0L609.3,589.9L611.9,595.0Z" fill="#8C4A1E"/>
<path d="M605.9,588.7L608.5,583.6L611.2,588.7Z" fill="#8C4A1E"/>
<path d="M605.6,599.2L608.2,594.1L610.9,599.2Z" fill="#8C4A1E"/>
<path d="M607.7,592.1L610.3,587.0L613.0,592.1Z" fill="#8C4A1E"/>
<path d="M606.4,590.4L609.0,585.3L611.7,590.4Z" fill="#8C4A1E"/>
<path d="M608.4,602.6L611.1,597.5L613.7,602.6Z" fill="#8C4A1E"/>
<path d="M606.9,594.6L609.6,589.5L612.2,594.6Z" fill="#8C4A1E"/>
<path d="M605.7,586.1L608.4,581.0L611.0,586.1Z" fill="#8C4A1E"/>
<path d="M607.2,598.1L609.9,593.0L612.5,598.1Z" fill="#8C4A1E"/>
<path d="M607.1,586.0L609.8,580.9L612.4,586.0Z" fill="#8C4A1E"/>
<path d="M608.2,605.5L610.9,600.4L613.5,605.5Z" fill="#8C4A1E"/>
<path d="M614.7,593.1L617.4,588.0L620.0,593.1Z" fill="#8C4A1E"/>
<path d="M616.2,589.4L618.8,584.3L621.5,589.4Z" fill="#8C4A1E"/>
<path d="M614.0,593.1L616.6,588.0L619.3,593.1Z" fill="#8C4A1E"/>
<path d="M616.4,579.8L619.0,574.7L621.7,579.8Z" fill="#8C4A1E"/>
<path d="M614.7,596.4L617.4,591.3L620.0,596.4Z" fill="#8C4A1E"/>
<path d="M613.7,570.5L616.3,565.4L619.0,570.5Z" fill="#8C4A1E"/>
<path d="M615.7,580.5L618.4,575.4L621.0,580.5Z" fill="#8C4A1E"/>
<path d="M613.5,578.9L616.2,573.8L618.8,578.9Z" fill="#8C4A1E"/>
<path d="M616.3,589.1L618.9,584.0L621.6,589.1Z" fill="#8C4A1E"/>
<path d="M625.5,586.8L628.1,581.7L630.8,586.8Z" fill="#8C4A1E"/>
<path d="M625.9,581.1L628.6,576.0L631.2,581.1Z" fill="#8C4A1E"/>
<path d="M622.5,590.7L625.2,585.6L627.8,590.7Z" fill="#8C4A1E"/>
<path d="M624.1,583.1L626.7,578.0L629.4,583.1Z" fill="#8C4A1E"/>
<path d="M622.9,607.9L625.5,602.8L628.2,607.9Z" fill="#8C4A1E"/>
<path d="M622.7,574.8L625.3,569.7L628.0,574.8Z" fill="#8C4A1E"/>
<path d="M623.9,578.7L626.6,573.6L629.2,578.7Z" fill="#8C4A1E"/>
<path d="M623.9,611.3L626.6,606.2L629.2,611.3Z" fill="#8C4A1E"/>
<path d="M625.9,575.6L628.6,570.5L631.2,575.6Z" fill="#8C4A1E"/>
<path d="M624.3,580.3L626.9,575.2L629.6,580.3Z" fill="#8C4A1E"/>
<path d="M625.3,572.3L628.0,567.2L630.6,572.3Z" fill="#8C4A1E"/>
<path d="M623.4,614.0L626.0,608.9L628.7,614.0Z" fill="#8C4A1E"/>
<path d="M622.7,580.6L625.4,575.5L628.0,580.6Z" fill="#8C4A1E"/>
<path d="M625.3,601.7L628.0,596.6L630.6,601.7Z" fill="#8C4A1E"/>
<path d="M624.8,566.7L627.4,561.6L630.1,566.7Z" fill="#8C4A1E"/>
<path d="M623.2,580.9L625.8,575.8L628.5,580.9Z" fill="#8C4A1E"/>
<path d="M628.0,577.1L630.7,572.0L633.3,577.1Z" fill="#8C4A1E"/>
<path d="M627.2,588.7L629.8,583.6L632.5,588.7Z" fill="#8C4A1E"/>
<path d="M627.2,574.9L629.9,569.8L632.5,574.9Z" fill="#8C4A1E"/>
<path d="M626.2,597.4L628.9,592.3L631.5,597.4Z" fill="#8C4A1E"/>
<path d="M628.0,575.5L630.6,570.4L633.3,575.5Z" fill="#8C4A1E"/>
<path d="M627.8,594.1L630.5,589.0L633.1,594.1Z" fill="#8C4A1E"/>
<path d="M625.7,592.9L628.4,587.8L631.0,592.9Z" fill="#8C4A1E"/>
<path d="M625.7,591.6L628.3,586.5L631.0,591.6Z" fill="#8C4A1E"/>
<path d="M626.6,600.6L629.3,595.5L631.9,600.6Z" fill="#8C4A1E"/>
<path d="M635.5,612.9L638.2,607.8L640.8,612.9Z" fill="#8C4A1E"/>
<path d="M633.8,585.4L636.5,580.3L639.1,585.4Z" fill="#8C4A1E"/>
<path d="M636.2,591.1L638.8,586.0L641.5,591.1Z" fill="#8C4A1E"/>
<path d="M635.4,574.6L638.1,569.5L640.7,574.6Z" fill="#8C4A1E"/>
<path d="M634.2,576.7L636.9,571.6L639.5,576.7Z" fill="#8C4A1E"/>
<path d="M636.5,590.9L639.2,585.8L641.8,590.9Z" fill="#8C4A1E"/>
<path d="M636.5,586.7L639.1,581.6L641.8,586.7Z" fill="#8C4A1E"/>
<path d="M634.1,575.5L636.8,570.4L639.4,575.5Z" fill="#8C4A1E"/>
<path d="M634.5,598.8L637.2,593.7L639.8,598.8Z" fill="#8C4A1E"/>
<path d="M633.8,580.8L636.4,575.7L639.1,580.8Z" fill="#8C4A1E"/>
<path d="M636.1,608.5L638.8,603.4L641.4,608.5Z" fill="#8C4A1E"/>
<path d="M636.0,608.2L638.7,603.1L641.3,608.2Z" fill="#8C4A1E"/>
<path d="M636.6,593.9L639.3,588.8L641.9,593.9Z" fill="#8C4A1E"/>
<path d="M633.9,607.4L636.5,602.3L639.2,607.4Z" fill="#8C4A1E"/>
<path d="M634.2,615.9L636.8,610.8L639.5,615.9Z" fill="#8C4A1E"/>
<path d="M635.5,608.4L638.2,603.3L640.8,608.4Z" fill="#8C4A1E"/>
<path d="M634.0,585.3L636.7,580.2L639.3,585.3Z" fill="#8C4A1E"/>
<path d="M636.1,571.8L638.7,566.7L641.4,571.8Z" fill="#8C4A1E"/>
<path d="M636.4,581.0L639.1,575.9L641.7,581.0Z" fill="#8C4A1E"/>
<path d="M635.3,582.3L637.9,577.2L640.6,582.3Z" fill="#8C4A1E"/>
<path d="M636.9,616.9L639.6,611.8L642.2,616.9Z" fill="#8C4A1E"/>
<path d="M633.9,572.4L636.5,567.3L639.2,572.4Z" fill="#8C4A1E"/>
<path d="M640.8,595.1L643.4,590.0L646.1,595.1Z" fill="#8C4A1E"/>
<path d="M642.1,590.2L644.8,585.1L647.4,590.2Z" fill="#8C4A1E"/>
<path d="M641.3,590.7L643.9,585.6L646.6,590.7Z" fill="#8C4A1E"/>
<path d="M639.8,575.6L642.4,570.5L645.1,575.6Z" fill="#8C4A1E"/>
<path d="M642.0,591.9L644.7,586.8L647.3,591.9Z" fill="#8C4A1E"/>
<path d="M641.5,599.8L644.2,594.7L646.8,599.8Z" fill="#8C4A1E"/>
<path d="M639.8,572.3L642.5,567.2L645.1,572.3Z" fill="#8C4A1E"/>
<path d="M640.6,590.5L643.2,585.4L645.9,590.5Z" fill="#8C4A1E"/>
<path d="M639.9,577.5L642.5,572.4L645.2,577.5Z" fill="#8C4A1E"/>
<path d="M640.9,578.1L643.5,573.0L646.2,578.1Z" fill="#8C4A1E"/>
<path d="M642.6,587.9L645.2,582.8L647.9,587.9Z" fill="#8C4A1E"/>
<path d="M640.7,601.9L643.3,596.8L646.0,601.9Z" fill="#8C4A1E"/>
<path d="M642.6,595.9L645.3,590.8L647.9,595.9Z" fill="#8C4A1E"/>
<path d="M642.2,591.0L644.9,585.9L647.5,591.0Z" fill="#8C4A1E"/>
<path d="M640.7,599.7L643.4,594.6L646.0,599.7Z" fill="#8C4A1E"/>
<path d="M642.5,573.9L645.2,568.8L647.8,573.9Z" fill="#8C4A1E"/>
<path d="M418.9,548.1L421.5,543.1L424.1,548.1Z" fill="#8C4A1E"/>
<path d="M427.6,555.8L430.2,550.7L432.8,555.8Z" fill="#8C4A1E"/>
<path d="M406.1,561.8L408.7,556.7L411.3,561.8Z" fill="#8C4A1E"/>
<path d="M526.2,533.8L528.9,528.7L531.5,533.8Z" fill="#8C4A1E"/>
<path d="M636.0,626.0L638.6,621.0L641.2,626.0Z" fill="#8C4A1E"/>
<path d="M403.4,620.1L406.0,615.1L408.6,620.1Z" fill="#8C4A1E"/>
<path d="M428.8,620.1L431.4,615.1L434.0,620.1Z" fill="#8C4A1E"/>
<circle cx="487.3" cy="518.5" r="2.6" fill="#EFA6AE"/>
<circle cx="487.3" cy="523.5" r="2.6" fill="#EFA6AE"/>
<circle cx="487.3" cy="528.5" r="2.6" fill="#EFA6AE"/>
<circle cx="487.3" cy="533.5" r="2.6" fill="#EFA6AE"/>
<circle cx="487.3" cy="538.5" r="2.6" fill="#EFA6AE"/>
<circle cx="487.3" cy="543.5" r="2.6" fill="#EFA6AE"/>
<circle cx="487.3" cy="548.5" r="2.6" fill="#EFA6AE"/>
<circle cx="487.3" cy="553.5" r="2.6" fill="#EFA6AE"/>
<path d="M474.4,605.3L477.0,600.2L479.7,605.3Z" fill="#EFA6AE"/>
<circle cx="468.5" cy="620.1" r="2.6" fill="#EFA6AE"/>
<circle cx="468.0" cy="618.8" r="2.6" fill="#EFA6AE"/>
<circle cx="480.7" cy="599.1" r="2.6" fill="#EFA6AE"/>
<circle cx="480.4" cy="633.2" r="2.6" fill="#EFA6AE"/>
<path d="M470.9,626.8L473.6,621.7L476.2,626.8Z" fill="#EFA6AE"/>
<path d="M483.0,616.4L485.6,611.3L488.3,616.4Z" fill="#EFA6AE"/>
<circle cx="467.6" cy="622.6" r="2.6" fill="#EFA6AE"/>
<circle cx="470.9" cy="601.3" r="2.6" fill="#EFA6AE"/>
<circle cx="493.7" cy="604.1" r="2.6" fill="#EFA6AE"/>
<circle cx="487.7" cy="612.8" r="2.6" fill="#EFA6AE"/>
<circle cx="468.1" cy="598.7" r="2.6" fill="#EFA6AE"/>
<circle cx="489.1" cy="615.2" r="2.6" fill="#EFA6AE"/>
<circle cx="485.9" cy="616.4" r="2.6" fill="#EFA6AE"/>
<circle cx="493.0" cy="627.5" r="2.6" fill="#EFA6AE"/>
<path d="M482.9,622.2L485.5,617.1L488.2,622.2Z" fill="#EFA6AE"/>
<path d="M488.2,611.5L490.8,606.4L493.5,611.5Z" fill="#EFA6AE"/>
<path d="M467.4,617.4L470.0,612.3L472.7,617.4Z" fill="#EFA6AE"/>
<circle cx="471.2" cy="618.0" r="2.6" fill="#EFA6AE"/>
<circle cx="488.7" cy="630.4" r="2.6" fill="#EFA6AE"/>
<path d="M493.1,612.7L495.8,607.6L498.4,612.7Z" fill="#EFA6AE"/>
<circle cx="486.2" cy="622.1" r="2.6" fill="#EFA6AE"/>
<circle cx="494.6" cy="638.5" r="2.6" fill="#EFA6AE"/>
<path d="M485.9,601.3L488.6,596.2L491.2,601.3Z" fill="#EFA6AE"/>
<path d="M485.4,643.2L488.0,638.1L490.7,643.2Z" fill="#EFA6AE"/>
<path d="M473.0,615.9L475.7,610.8L478.3,615.9Z" fill="#EFA6AE"/>
<circle cx="466.8" cy="616.8" r="2.6" fill="#EFA6AE"/>
<path d="M467.3,601.2L470.0,596.1L472.6,601.2Z" fill="#EFA6AE"/>
<circle cx="470.4" cy="607.1" r="2.6" fill="#EFA6AE"/>
<circle cx="495.6" cy="599.6" r="2.6" fill="#EFA6AE"/>
<path d="M482.0,638.3L484.7,633.2L487.3,638.3Z" fill="#EFA6AE"/>
<circle cx="495.4" cy="608.5" r="2.6" fill="#EFA6AE"/>
<path d="M475.5,626.3L478.2,621.2L480.8,626.3Z" fill="#EFA6AE"/>
<circle cx="471.1" cy="603.9" r="2.6" fill="#EFA6AE"/>
<circle cx="473.9" cy="617.8" r="2.6" fill="#EFA6AE"/>
<circle cx="474.9" cy="596.2" r="2.6" fill="#EFA6AE"/>
<path d="M475.9,624.0L478.6,618.9L481.2,624.0Z" fill="#EFA6AE"/>
<path d="M486.8,621.7L489.5,616.6L492.1,621.7Z" fill="#EFA6AE"/>
<path d="M486.3,601.0L489.0,595.9L491.6,601.0Z" fill="#EFA6AE"/>
<path d="M489.9,637.9L492.5,632.8L495.2,637.9Z" fill="#EFA6AE"/>
<circle cx="479.3" cy="614.0" r="2.6" fill="#EFA6AE"/>
<circle cx="487.6" cy="598.8" r="2.6" fill="#EFA6AE"/>
<circle cx="473.1" cy="603.3" r="2.6" fill="#EFA6AE"/>
<circle cx="467.8" cy="596.0" r="2.6" fill="#EFA6AE"/>
<circle cx="469.4" cy="612.4" r="2.6" fill="#EFA6AE"/>
<circle cx="495.7" cy="623.6" r="2.6" fill="#EFA6AE"/>
<circle cx="474.6" cy="611.6" r="2.6" fill="#EFA6AE"/>
<path d="M467.5,624.8L470.2,619.7L472.8,624.8Z" fill="#EFA6AE"/>
<circle cx="481.8" cy="617.8" r="2.6" fill="#EFA6AE"/>
<circle cx="469.5" cy="611.4" r="2.6" fill="#EFA6AE"/>
<circle cx="494.2" cy="603.3" r="2.6" fill="#EFA6AE"/>
<circle cx="498.3" cy="619.8" r="2.6" fill="#EFA6AE"/>
<circle cx="484.5" cy="597.2" r="2.6" fill="#EFA6AE"/>
<path d="M496.6,625.4L499.3,620.3L501.9,625.4Z" fill="#EFA6AE"/>
<circle cx="474.9" cy="612.5" r="2.6" fill="#EFA6AE"/>
<path d="M489.6,622.5L492.2,617.4L494.9,622.5Z" fill="#EFA6AE"/>
<path d="M474.6,608.6L477.2,603.5L479.9,608.6Z" fill="#EFA6AE"/>
<path d="M496.8,624.9L499.5,619.8L502.1,624.9Z" fill="#EFA6AE"/>
<circle cx="493.8" cy="629.3" r="2.6" fill="#EFA6AE"/>
<circle cx="483.6" cy="612.0" r="2.6" fill="#EFA6AE"/>
<circle cx="466.9" cy="608.6" r="2.6" fill="#EFA6AE"/>
<circle cx="489.5" cy="639.0" r="2.6" fill="#EFA6AE"/>
<path d="M495.2,631.0L497.9,625.9L500.5,631.0Z" fill="#EFA6AE"/>
<circle cx="478.4" cy="605.9" r="2.6" fill="#EFA6AE"/>
<path d="M470.0,607.7L472.7,602.6L475.3,607.7Z" fill="#EFA6AE"/>
<circle cx="496.6" cy="621.8" r="2.6" fill="#EFA6AE"/>
<circle cx="488.2" cy="632.0" r="2.6" fill="#EFA6AE"/>
<path d="M485.8,639.5L488.5,634.4L491.1,639.5Z" fill="#EFA6AE"/>
<circle cx="491.5" cy="617.5" r="2.6" fill="#EFA6AE"/>
<path d="M490.2,613.5L492.8,608.4L495.5,613.5Z" fill="#EFA6AE"/>
<circle cx="499.0" cy="613.8" r="2.6" fill="#EFA6AE"/>
<circle cx="498.2" cy="628.6" r="2.6" fill="#EFA6AE"/>
<path d="M467.7,605.4L470.3,600.3L473.0,605.4Z" fill="#EFA6AE"/>
<path d="M490.8,605.1L493.4,600.0L496.1,605.1Z" fill="#EFA6AE"/>
<circle cx="499.3" cy="625.6" r="2.6" fill="#EFA6AE"/>
<circle cx="484.7" cy="601.9" r="2.6" fill="#EFA6AE"/>
<circle cx="499.0" cy="625.2" r="2.6" fill="#EFA6AE"/>
<path d="M495.1,618.1L497.7,613.0L500.4,618.1Z" fill="#EFA6AE"/>
<circle cx="494.1" cy="605.5" r="2.6" fill="#EFA6AE"/>
<circle cx="476.0" cy="606.8" r="2.6" fill="#EFA6AE"/>
<path d="M474.2,572.0L476.8,566.9L479.5,572.0Z" fill="#EFA6AE"/>
<path d="M496.3,569.9L498.9,564.8L501.6,569.9Z" fill="#EFA6AE"/>
<path d="M485.2,587.5L487.8,582.4L490.5,587.5Z" fill="#EFA6AE"/>
<path d="M496.6,574.6L499.2,569.5L501.9,574.6Z" fill="#EFA6AE"/>
<path d="M483.1,559.1L485.8,554.0L488.4,559.1Z" fill="#EFA6AE"/>
<circle cx="474.2" cy="556.1" r="2.6" fill="#EFA6AE"/>
<circle cx="473.9" cy="571.2" r="2.6" fill="#EFA6AE"/>
<path d="M484.3,569.0L486.9,563.9L489.6,569.0Z" fill="#EFA6AE"/>
<path d="M484.2,583.6L486.9,578.5L489.5,583.6Z" fill="#EFA6AE"/>
<path d="M484.4,566.5L487.1,561.4L489.7,566.5Z" fill="#EFA6AE"/>
<path d="M491.6,574.8L494.3,569.7L496.9,574.8Z" fill="#EFA6AE"/>
<path d="M491.2,587.7L493.8,582.6L496.5,587.7Z" fill="#EFA6AE"/>
<path d="M486.2,574.7L488.8,569.6L491.5,574.7Z" fill="#EFA6AE"/>
<path d="M488.9,573.0L491.6,567.9L494.2,573.0Z" fill="#EFA6AE"/>
<circle cx="484.3" cy="586.1" r="2.6" fill="#EFA6AE"/>
<path d="M495.2,588.7L497.8,583.6L500.5,588.7Z" fill="#EFA6AE"/>
<circle cx="487.0" cy="586.2" r="2.6" fill="#EFA6AE"/>
<path d="M470.0,562.4L472.7,557.3L475.3,562.4Z" fill="#EFA6AE"/>
<path d="M467.8,566.3L470.5,561.2L473.1,566.3Z" fill="#EFA6AE"/>
<circle cx="490.8" cy="581.1" r="2.6" fill="#EFA6AE"/>
<circle cx="473.3" cy="578.9" r="2.6" fill="#EFA6AE"/>
<circle cx="472.9" cy="584.3" r="2.6" fill="#EFA6AE"/>
<path d="M472.8,589.0L475.5,583.9L478.1,589.0Z" fill="#EFA6AE"/>
<circle cx="484.6" cy="587.7" r="2.6" fill="#EFA6AE"/>
<path d="M470.8,572.4L473.5,567.3L476.1,572.4Z" fill="#EFA6AE"/>
<path d="M476.9,564.8L479.5,559.7L482.2,564.8Z" fill="#EFA6AE"/>
<path d="M489.9,559.2L492.6,554.1L495.2,559.2Z" fill="#EFA6AE"/>
<path d="M480.3,559.1L483.0,554.0L485.6,559.1Z" fill="#EFA6AE"/>
<path d="M486.6,574.9L489.2,569.8L491.9,574.9Z" fill="#EFA6AE"/>
<circle cx="501.5" cy="581.2" r="2.6" fill="#EFA6AE"/>
<path d="M468.9,567.0L471.6,561.9L474.2,567.0Z" fill="#EFA6AE"/>
<path d="M491.8,567.2L494.5,562.1L497.1,567.2Z" fill="#EFA6AE"/>
<circle cx="482.4" cy="585.2" r="2.6" fill="#EFA6AE"/>
<circle cx="476.8" cy="560.8" r="2.6" fill="#EFA6AE"/>
<path d="M484.8,581.0L487.4,575.9L490.1,581.0Z" fill="#EFA6AE"/>
<path d="M467.3,580.6L470.0,575.5L472.6,580.6Z" fill="#EFA6AE"/>
<circle cx="470.5" cy="586.0" r="2.6" fill="#EFA6AE"/>
<circle cx="495.3" cy="558.7" r="2.6" fill="#EFA6AE"/>
<path d="M467.6,586.2L470.3,581.1L472.9,586.2Z" fill="#EFA6AE"/>
<circle cx="479.5" cy="573.7" r="2.6" fill="#EFA6AE"/>
<path d="M474.5,562.7L477.1,557.6L479.8,562.7Z" fill="#EFA6AE"/>
<path d="M473.5,562.1L476.1,557.0L478.8,562.1Z" fill="#EFA6AE"/>
<path d="M467.1,565.0L469.7,559.9L472.4,565.0Z" fill="#EFA6AE"/>
<path d="M475.7,582.9L478.4,577.8L481.0,582.9Z" fill="#EFA6AE"/>
<path d="M482.4,564.2L485.0,559.1L487.7,564.2Z" fill="#EFA6AE"/>
<path d="M462.6,598.9L465.3,593.8L467.9,598.9Z" fill="#8C4A1E"/>
<path d="M463.3,622.6L465.9,617.5L468.6,622.6Z" fill="#8C4A1E"/>
<path d="M463.6,615.0L466.2,609.9L468.9,615.0Z" fill="#8C4A1E"/>
<path d="M465.0,591.2L467.7,586.1L470.3,591.2Z" fill="#8C4A1E"/>
<path d="M463.6,609.5L466.3,604.4L468.9,609.5Z" fill="#8C4A1E"/>
<path d="M464.1,621.6L466.8,616.5L469.4,621.6Z" fill="#8C4A1E"/>
<path d="M463.7,592.6L466.4,587.5L469.0,592.6Z" fill="#8C4A1E"/>
<path d="M464.2,593.9L466.9,588.8L469.5,593.9Z" fill="#8C4A1E"/>
<path d="M470.4,574.3L473.0,569.2L475.7,574.3Z" fill="#8C4A1E"/>
<path d="M470.0,591.8L472.7,586.7L475.3,591.8Z" fill="#8C4A1E"/>
<path d="M470.5,604.4L473.2,599.3L475.8,604.4Z" fill="#8C4A1E"/>
<path d="M468.3,620.3L471.0,615.2L473.6,620.3Z" fill="#8C4A1E"/>
<path d="M468.7,581.7L471.3,576.6L474.0,581.7Z" fill="#8C4A1E"/>
<path d="M470.0,622.0L472.6,616.9L475.3,622.0Z" fill="#8C4A1E"/>
<path d="M470.4,617.3L473.0,612.2L475.7,617.3Z" fill="#8C4A1E"/>
<path d="M470.4,564.0L473.0,558.9L475.7,564.0Z" fill="#8C4A1E"/>
<path d="M476.0,571.9L478.6,566.8L481.3,571.9Z" fill="#8C4A1E"/>
<path d="M476.0,598.5L478.6,593.4L481.3,598.5Z" fill="#8C4A1E"/>
<path d="M474.3,580.1L477.0,575.0L479.6,580.1Z" fill="#8C4A1E"/>
<path d="M476.6,594.6L479.2,589.5L481.9,594.6Z" fill="#8C4A1E"/>
<path d="M476.8,580.8L479.5,575.7L482.1,580.8Z" fill="#8C4A1E"/>
<path d="M476.8,603.4L479.4,598.3L482.1,603.4Z" fill="#8C4A1E"/>
<path d="M473.6,569.8L476.3,564.7L478.9,569.8Z" fill="#8C4A1E"/>
<path d="M475.3,613.1L478.0,608.0L480.6,613.1Z" fill="#8C4A1E"/>
<path d="M475.0,611.1L477.7,606.0L480.3,611.1Z" fill="#8C4A1E"/>
<path d="M476.8,603.7L479.5,598.6L482.1,603.7Z" fill="#8C4A1E"/>
<path d="M476.5,597.0L479.2,591.9L481.8,597.0Z" fill="#8C4A1E"/>
<path d="M476.1,587.7L478.8,582.6L481.4,587.7Z" fill="#8C4A1E"/>
<path d="M480.9,592.1L483.5,587.0L486.2,592.1Z" fill="#8C4A1E"/>
<path d="M481.8,567.9L484.5,562.8L487.1,567.9Z" fill="#8C4A1E"/>
<path d="M482.0,596.2L484.6,591.1L487.3,596.2Z" fill="#8C4A1E"/>
<path d="M481.1,589.6L483.8,584.5L486.4,589.6Z" fill="#8C4A1E"/>
<path d="M483.0,603.5L485.7,598.4L488.3,603.5Z" fill="#8C4A1E"/>
<path d="M481.6,598.9L484.3,593.8L486.9,598.9Z" fill="#8C4A1E"/>
<path d="M489.1,596.2L491.8,591.1L494.4,596.2Z" fill="#8C4A1E"/>
<path d="M486.1,600.7L488.8,595.6L491.4,600.7Z" fill="#8C4A1E"/>
<path d="M488.1,602.3L490.8,597.2L493.4,602.3Z" fill="#8C4A1E"/>
<path d="M485.9,612.3L488.5,607.2L491.2,612.3Z" fill="#8C4A1E"/>
<path d="M488.6,600.3L491.2,595.2L493.9,600.3Z" fill="#8C4A1E"/>
<path d="M487.0,581.7L489.6,576.6L492.3,581.7Z" fill="#8C4A1E"/>
<path d="M487.6,564.3L490.2,559.2L492.9,564.3Z" fill="#8C4A1E"/>
<path d="M494.0,602.3L496.7,597.2L499.3,602.3Z" fill="#8C4A1E"/>
<path d="M492.3,600.6L494.9,595.5L497.6,600.6Z" fill="#8C4A1E"/>
<path d="M493.2,597.6L495.9,592.5L498.5,597.6Z" fill="#8C4A1E"/>
<path d="M491.6,605.2L494.3,600.1L496.9,605.2Z" fill="#8C4A1E"/>
<path d="M493.8,607.4L496.5,602.3L499.1,607.4Z" fill="#8C4A1E"/>
<path d="M492.7,609.7L495.4,604.6L498.0,609.7Z" fill="#8C4A1E"/>
<path d="M498.1,608.4L500.8,603.3L503.4,608.4Z" fill="#8C4A1E"/>
<path d="M498.1,604.1L500.8,599.0L503.4,604.1Z" fill="#8C4A1E"/>
<path d="M499.1,562.8L501.7,557.7L504.4,562.8Z" fill="#8C4A1E"/>
<path d="M498.3,579.7L500.9,574.6L503.6,579.7Z" fill="#8C4A1E"/>
<path d="M498.6,600.4L501.3,595.3L503.9,600.4Z" fill="#8C4A1E"/>
<path d="M498.6,593.6L501.3,588.5L503.9,593.6Z" fill="#8C4A1E"/>
<path d="M498.0,584.3L500.6,579.2L503.3,584.3Z" fill="#8C4A1E"/>
<circle cx="406.2" cy="588.9" r="3.3" fill="#8C4A1E"/>
<circle cx="408.6" cy="589.5" r="3.3" fill="#8C4A1E"/>
<circle cx="411.0" cy="588.1" r="3.3" fill="#8C4A1E"/>
<circle cx="420.7" cy="589.5" r="3.3" fill="#8C4A1E"/>
<circle cx="423.1" cy="588.7" r="3.3" fill="#8C4A1E"/>
<circle cx="431.2" cy="588.3" r="3.3" fill="#8C4A1E"/>
<circle cx="443.2" cy="589.2" r="3.3" fill="#8C4A1E"/>
<circle cx="445.6" cy="589.4" r="3.3" fill="#8C4A1E"/>
<circle cx="448.0" cy="588.6" r="3.3" fill="#8C4A1E"/>
<circle cx="450.4" cy="588.1" r="3.3" fill="#8C4A1E"/>
<circle cx="452.8" cy="589.4" r="3.3" fill="#8C4A1E"/>
<circle cx="455.2" cy="589.2" r="3.3" fill="#8C4A1E"/>
<circle cx="463.2" cy="589.0" r="3.3" fill="#8C4A1E"/>
<circle cx="465.6" cy="589.6" r="3.3" fill="#8C4A1E"/>
<circle cx="468.0" cy="588.1" r="3.3" fill="#8C4A1E"/>
<circle cx="470.4" cy="588.1" r="3.3" fill="#8C4A1E"/>
<circle cx="472.8" cy="588.2" r="3.3" fill="#8C4A1E"/>
<circle cx="475.2" cy="588.0" r="3.3" fill="#8C4A1E"/>
<circle cx="477.6" cy="589.1" r="3.3" fill="#8C4A1E"/>
<circle cx="480.0" cy="589.0" r="3.3" fill="#8C4A1E"/>
<circle cx="482.4" cy="588.2" r="3.3" fill="#8C4A1E"/>
<circle cx="484.8" cy="588.3" r="3.3" fill="#8C4A1E"/>
<circle cx="487.2" cy="588.3" r="3.3" fill="#8C4A1E"/>
<circle cx="489.6" cy="589.0" r="3.3" fill="#8C4A1E"/>
<circle cx="492.0" cy="589.1" r="3.3" fill="#8C4A1E"/>
<circle cx="494.4" cy="589.6" r="3.3" fill="#8C4A1E"/>
<circle cx="496.8" cy="588.6" r="3.3" fill="#8C4A1E"/>
<circle cx="499.2" cy="589.6" r="3.3" fill="#8C4A1E"/>
<circle cx="501.6" cy="588.7" r="3.3" fill="#8C4A1E"/>
<circle cx="504.0" cy="588.6" r="3.3" fill="#8C4A1E"/>
<circle cx="506.4" cy="588.4" r="3.3" fill="#8C4A1E"/>
<circle cx="508.8" cy="588.4" r="3.3" fill="#8C4A1E"/>
<circle cx="511.2" cy="589.6" r="3.3" fill="#8C4A1E"/>
<circle cx="513.6" cy="589.6" r="3.3" fill="#8C4A1E"/>
<circle cx="516.0" cy="589.1" r="3.3" fill="#8C4A1E"/>
<circle cx="518.4" cy="588.3" r="3.3" fill="#8C4A1E"/>
<circle cx="520.8" cy="588.3" r="3.3" fill="#8C4A1E"/>
<circle cx="523.2" cy="588.2" r="3.3" fill="#8C4A1E"/>
<circle cx="525.6" cy="588.6" r="3.3" fill="#8C4A1E"/>
<circle cx="528.0" cy="589.2" r="3.3" fill="#8C4A1E"/>
<circle cx="530.4" cy="588.1" r="3.3" fill="#8C4A1E"/>
<circle cx="532.8" cy="588.8" r="3.3" fill="#8C4A1E"/>
<circle cx="535.2" cy="589.1" r="3.3" fill="#8C4A1E"/>
<circle cx="537.6" cy="588.1" r="3.3" fill="#8C4A1E"/>
<circle cx="540.0" cy="588.7" r="3.3" fill="#8C4A1E"/>
<circle cx="552.2" cy="589.3" r="3.3" fill="#8C4A1E"/>
<circle cx="554.6" cy="588.9" r="3.3" fill="#8C4A1E"/>
<circle cx="557.0" cy="588.7" r="3.3" fill="#8C4A1E"/>
<circle cx="566.7" cy="589.4" r="3.3" fill="#8C4A1E"/>
<circle cx="569.1" cy="589.0" r="3.3" fill="#8C4A1E"/>
<circle cx="571.5" cy="588.5" r="3.3" fill="#8C4A1E"/>
<circle cx="573.9" cy="588.6" r="3.3" fill="#8C4A1E"/>
<circle cx="576.3" cy="589.5" r="3.3" fill="#8C4A1E"/>
<circle cx="585.2" cy="589.4" r="3.3" fill="#8C4A1E"/>
<circle cx="596.4" cy="589.5" r="3.3" fill="#8C4A1E"/>
<circle cx="598.8" cy="588.9" r="3.3" fill="#8C4A1E"/>
<circle cx="601.2" cy="588.2" r="3.3" fill="#8C4A1E"/>
<circle cx="603.6" cy="588.3" r="3.3" fill="#8C4A1E"/>
<circle cx="606.0" cy="588.6" r="3.3" fill="#8C4A1E"/>
<circle cx="608.4" cy="589.1" r="3.3" fill="#8C4A1E"/>
<circle cx="610.8" cy="588.0" r="3.3" fill="#8C4A1E"/>
<circle cx="613.2" cy="589.3" r="3.3" fill="#8C4A1E"/>
<circle cx="615.6" cy="589.3" r="3.3" fill="#8C4A1E"/>
<circle cx="618.0" cy="588.8" r="3.3" fill="#8C4A1E"/>
<circle cx="626.9" cy="588.0" r="3.3" fill="#8C4A1E"/>
<circle cx="629.3" cy="589.3" r="3.3" fill="#8C4A1E"/>
<circle cx="631.7" cy="588.7" r="3.3" fill="#8C4A1E"/>
<circle cx="634.1" cy="589.1" r="3.3" fill="#8C4A1E"/>
<circle cx="636.5" cy="588.9" r="3.3" fill="#8C4A1E"/>
<circle cx="638.9" cy="589.2" r="3.3" fill="#8C4A1E"/>
<circle cx="641.3" cy="588.7" r="3.3" fill="#8C4A1E"/>
<line x1="483.40" y1="572.30" x2="483.40" y2="605.00" stroke="#E8251F" stroke-width="1.3"/>
<circle cx="483.4" cy="572.3" r="2.8" fill="#E8251F"/>
<path d="M480.2,607.3L483.4,601.6L486.6,607.3Z" fill="#E8251F"/>
<rect x="391.50" y="501.80" width="267.00" height="155.20" fill="none" stroke="#2a2a2a" stroke-width="1.4"/>
<line x1="387.00" y1="512.40" x2="391.50" y2="512.40" stroke="#2a2a2a" stroke-width="1.2"/>
<text x="373.58" y="518.70" font-size="12.40" font-weight="bold" fill="#111" textLength="8.32" lengthAdjust="spacingAndGlyphs">2</text>
<line x1="387.00" y1="550.40" x2="391.50" y2="550.40" stroke="#2a2a2a" stroke-width="1.2"/>
<text x="374.20" y="554.60" font-size="12.40" font-weight="bold" fill="#111" textLength="6.22" lengthAdjust="spacingAndGlyphs">1</text>
<line x1="387.00" y1="589.70" x2="391.50" y2="589.70" stroke="#2a2a2a" stroke-width="1.2"/>
<text x="373.83" y="592.30" font-size="12.40" font-weight="bold" fill="#111" textLength="7.96" lengthAdjust="spacingAndGlyphs">0</text>
<line x1="387.00" y1="622.10" x2="391.50" y2="622.10" stroke="#2a2a2a" stroke-width="1.2"/>
<text x="370.11" y="625.50" font-size="12.40" font-weight="bold" fill="#111" textLength="13.73" lengthAdjust="spacingAndGlyphs">−1</text>
<text transform="translate(370.90,603.92) scale(0.928,1) rotate(-90)" x="0" y="0" font-size="13.00" font-weight="bold" fill="#111" textLength="63.97" lengthAdjust="spacingAndGlyphs">effect size</text>
<text x="387.80" y="673.00" font-size="11.20" font-weight="bold" fill="#111" textLength="6.91" lengthAdjust="spacingAndGlyphs">0</text>
<text x="447.37" y="673.00" font-size="11.20" font-weight="bold" fill="#111" textLength="31.01" lengthAdjust="spacingAndGlyphs">5x10</text>
<text x="478.08" y="669.30" font-size="7.20" font-weight="bold" fill="#111" textLength="4.15" lengthAdjust="spacingAndGlyphs">7</text>
<text x="519.82" y="673.00" font-size="11.20" font-weight="bold" fill="#111" textLength="39.06" lengthAdjust="spacingAndGlyphs">10x10</text>
<text x="558.48" y="669.30" font-size="7.20" font-weight="bold" fill="#111" textLength="4.15" lengthAdjust="spacingAndGlyphs">7</text>
<text x="588.91" y="673.00" font-size="11.20" font-weight="bold" fill="#111" textLength="39.37" lengthAdjust="spacingAndGlyphs">15x10</text>
<text x="627.88" y="669.30" font-size="7.20" font-weight="bold" fill="#111" textLength="4.15" lengthAdjust="spacingAndGlyphs">7</text>
<text x="482.74" y="691.40" font-size="13.40" font-weight="bold" fill="#111" textLength="115.70" lengthAdjust="spacingAndGlyphs">Genomic Position</text>
<text x="391.29" y="495.30" font-size="9.90" font-weight="bold" fill="#111" textLength="53.27" lengthAdjust="spacingAndGlyphs">eQTL Type</text>
<circle cx="453.0" cy="493.2" r="2.8" fill="#8C4A1E"/>
<text x="459.91" y="495.30" font-size="9.90" font-weight="bold" fill="#111" textLength="64.29" lengthAdjust="spacingAndGlyphs">Neu_Specific</text>
<circle cx="539.3" cy="493.2" r="2.8" fill="#EFA6AE"/>
<text x="544.60" y="495.80" font-size="9.90" font-weight="bold" fill="#111" textLength="105.86" lengthAdjust="spacingAndGlyphs">Neu_Blood_Opposite</text>
<circle cx="403.9" cy="513.7" r="2.9" fill="#E8251F"/>
<text x="410.81" y="516.70" font-size="9.90" font-weight="bold" fill="#111" textLength="29.37" lengthAdjust="spacingAndGlyphs">Blood</text>
<path d="M400.6,529.1L404.2,522.8L407.8,529.1Z" fill="#E8251F"/>
<text x="409.40" y="528.60" font-size="9.90" font-weight="bold" fill="#111" textLength="19.80" lengthAdjust="spacingAndGlyphs">Neu</text>
<text x="514.24" y="512.50" font-size="8.70" font-weight="bold" fill="#E8251F" textLength="50.12" lengthAdjust="spacingAndGlyphs">rs324196757</text>
<text x="513.65" y="524.00" font-size="8.70" font-weight="bold" fill="#E8251F" textLength="62.52" lengthAdjust="spacingAndGlyphs">β=0.30(Blood)</text>
<text x="519.14" y="641.20" font-size="8.70" font-weight="bold" fill="#E8251F" textLength="50.63" lengthAdjust="spacingAndGlyphs">rs324196757</text>
<text x="518.61" y="651.60" font-size="8.70" font-weight="bold" fill="#E8251F" textLength="51.21" lengthAdjust="spacingAndGlyphs">β=-0.39(Neu)</text>
</svg>
</body></html>
